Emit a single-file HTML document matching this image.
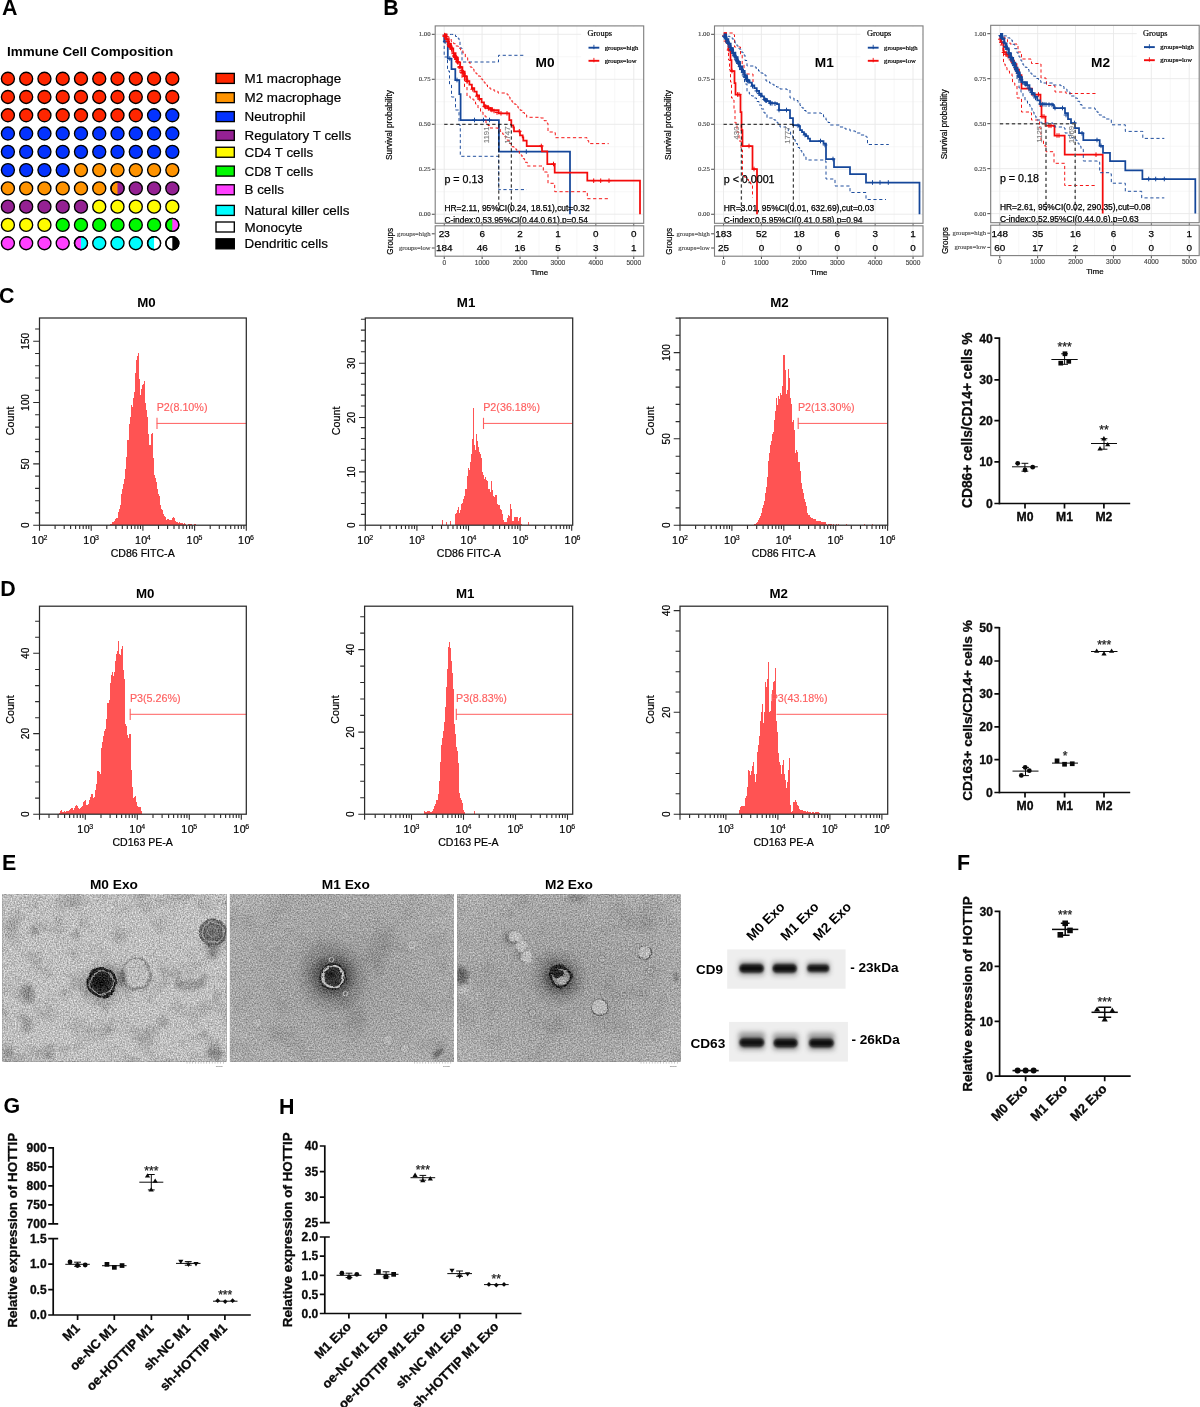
<!DOCTYPE html>
<html><head><meta charset="utf-8"><title>Figure</title>
<style>
html,body{margin:0;padding:0;background:#fff}
body{width:1200px;height:1407px;overflow:hidden;font-family:"Liberation Sans",sans-serif}
svg{display:block;will-change:transform}
.ss{font-family:"Liberation Sans",sans-serif}
.sf{font-family:"Liberation Serif",serif}
</style></head><body>
<svg width="1200" height="1407" viewBox="0 0 1200 1407">
<defs><filter id="ag0" filterUnits="userSpaceOnUse" x="2.3" y="894.0" width="224.4" height="167.7" color-interpolation-filters="sRGB"><feTurbulence type="fractalNoise" baseFrequency="0.71 0.67" numOctaves="2" seed="3"/><feColorMatrix type="matrix" values="1 0 0 0 0  1 0 0 0 0  1 0 0 0 0  0 0 0 0 1"/><feGaussianBlur stdDeviation="0.62" result="n"/><feComposite in="SourceGraphic" in2="n" operator="arithmetic" k1="0" k2="1" k3="0.56" k4="-0.28"/></filter>
<filter id="ag1" filterUnits="userSpaceOnUse" x="229.8" y="894.0" width="224.2" height="167.7" color-interpolation-filters="sRGB"><feTurbulence type="fractalNoise" baseFrequency="0.71 0.67" numOctaves="2" seed="7"/><feColorMatrix type="matrix" values="1 0 0 0 0  1 0 0 0 0  1 0 0 0 0  0 0 0 0 1"/><feGaussianBlur stdDeviation="0.62" result="n"/><feComposite in="SourceGraphic" in2="n" operator="arithmetic" k1="0" k2="1" k3="0.5" k4="-0.25"/></filter>
<filter id="ag2" filterUnits="userSpaceOnUse" x="457.2" y="894.0" width="223.5" height="167.7" color-interpolation-filters="sRGB"><feTurbulence type="fractalNoise" baseFrequency="0.71 0.67" numOctaves="2" seed="11"/><feColorMatrix type="matrix" values="1 0 0 0 0  1 0 0 0 0  1 0 0 0 0  0 0 0 0 1"/><feGaussianBlur stdDeviation="0.62" result="n"/><feComposite in="SourceGraphic" in2="n" operator="arithmetic" k1="0" k2="1" k3="0.5" k4="-0.25"/></filter>
<filter id="bl0" x="0" y="0" width="100%" height="100%" color-interpolation-filters="sRGB"><feTurbulence type="fractalNoise" baseFrequency="0.045" numOctaves="3" seed="5" result="n"/><feColorMatrix in="n" type="matrix" values="0 0 0 0 0  0 0 0 0 0  0 0 0 0 0  0.4 0 0 0 -0.19"/></filter>
<filter id="bl1" x="0" y="0" width="100%" height="100%" color-interpolation-filters="sRGB"><feTurbulence type="fractalNoise" baseFrequency="0.03" numOctaves="3" seed="9" result="n"/><feColorMatrix in="n" type="matrix" values="0 0 0 0 0  0 0 0 0 0  0 0 0 0 0  0.3 0 0 0 -0.15"/></filter>
<filter id="bl2" x="0" y="0" width="100%" height="100%" color-interpolation-filters="sRGB"><feTurbulence type="fractalNoise" baseFrequency="0.03" numOctaves="3" seed="13" result="n"/><feColorMatrix in="n" type="matrix" values="0 0 0 0 0  0 0 0 0 0  0 0 0 0 0  0.3 0 0 0 -0.15"/></filter>
<filter id="disp" x="-20%" y="-20%" width="140%" height="140%"><feTurbulence type="fractalNoise" baseFrequency="0.11" numOctaves="2" seed="4" result="t"/><feDisplacementMap in="SourceGraphic" in2="t" scale="4.5" xChannelSelector="R" yChannelSelector="G"/><feGaussianBlur stdDeviation="0.55"/></filter>
<filter id="disp2" x="-20%" y="-20%" width="140%" height="140%"><feTurbulence type="fractalNoise" baseFrequency="0.2" numOctaves="2" seed="8" result="t"/><feDisplacementMap in="SourceGraphic" in2="t" scale="3" xChannelSelector="R" yChannelSelector="G"/><feGaussianBlur stdDeviation="0.5"/></filter>
<filter id="b1" x="-30%" y="-30%" width="160%" height="160%"><feGaussianBlur stdDeviation="1"/></filter>
<filter id="b06" x="-30%" y="-30%" width="160%" height="160%"><feGaussianBlur stdDeviation="0.6"/></filter>
<filter id="b2" x="-30%" y="-30%" width="160%" height="160%"><feGaussianBlur stdDeviation="2"/></filter>
<filter id="b4" x="-50%" y="-50%" width="200%" height="200%"><feGaussianBlur stdDeviation="4"/></filter>
<filter id="bb" x="-20%" y="-60%" width="140%" height="220%"><feGaussianBlur stdDeviation="1.3 1.1"/></filter>
<filter id="bh" x="-20%" y="-80%" width="140%" height="260%"><feGaussianBlur stdDeviation="2.5 2.6"/></filter>
<radialGradient id="halo"><stop offset="0" stop-color="#000" stop-opacity="0.75"/><stop offset="0.35" stop-color="#000" stop-opacity="0.5"/><stop offset="0.65" stop-color="#000" stop-opacity="0.16"/><stop offset="1" stop-color="#000" stop-opacity="0"/></radialGradient>
<radialGradient id="vig"><stop offset="0" stop-color="#000" stop-opacity="0.10"/><stop offset="0.6" stop-color="#000" stop-opacity="0.03"/><stop offset="1" stop-color="#fff" stop-opacity="0.06"/></radialGradient></defs>
<rect width="1200" height="1407" fill="#fff"/>
<g id="panel_a">
<text class="ss" x="2" y="15.3" font-size="21.4" font-weight="bold">A</text>
<text class="ss" x="7" y="56.3" font-size="13.48" font-weight="bold">Immune Cell Composition</text>
<g stroke="#000" stroke-width="1.35">
<circle cx="7.9" cy="78.7" r="6.5" fill="#ff2600"/>
<circle cx="26.17" cy="78.7" r="6.5" fill="#ff2600"/>
<circle cx="44.44" cy="78.7" r="6.5" fill="#ff2600"/>
<circle cx="62.71" cy="78.7" r="6.5" fill="#ff2600"/>
<circle cx="80.98" cy="78.7" r="6.5" fill="#ff2600"/>
<circle cx="99.25" cy="78.7" r="6.5" fill="#ff2600"/>
<circle cx="117.52" cy="78.7" r="6.5" fill="#ff2600"/>
<circle cx="135.79" cy="78.7" r="6.5" fill="#ff2600"/>
<circle cx="154.06" cy="78.7" r="6.5" fill="#ff2600"/>
<circle cx="172.33" cy="78.7" r="6.5" fill="#ff2600"/>
<circle cx="7.9" cy="96.98" r="6.5" fill="#ff2600"/>
<circle cx="26.17" cy="96.98" r="6.5" fill="#ff2600"/>
<circle cx="44.44" cy="96.98" r="6.5" fill="#ff2600"/>
<circle cx="62.71" cy="96.98" r="6.5" fill="#ff2600"/>
<circle cx="80.98" cy="96.98" r="6.5" fill="#ff2600"/>
<circle cx="99.25" cy="96.98" r="6.5" fill="#ff2600"/>
<circle cx="117.52" cy="96.98" r="6.5" fill="#ff2600"/>
<circle cx="135.79" cy="96.98" r="6.5" fill="#ff2600"/>
<circle cx="154.06" cy="96.98" r="6.5" fill="#ff2600"/>
<circle cx="172.33" cy="96.98" r="6.5" fill="#ff2600"/>
<circle cx="7.9" cy="115.26" r="6.5" fill="#ff2600"/>
<circle cx="26.17" cy="115.26" r="6.5" fill="#ff2600"/>
<circle cx="44.44" cy="115.26" r="6.5" fill="#ff2600"/>
<circle cx="62.71" cy="115.26" r="6.5" fill="#ff2600"/>
<circle cx="80.98" cy="115.26" r="6.5" fill="#ff2600"/>
<circle cx="99.25" cy="115.26" r="6.5" fill="#ff2600"/>
<circle cx="117.52" cy="115.26" r="6.5" fill="#ff2600"/>
<circle cx="135.79" cy="115.26" r="6.5" fill="#ff2600"/>
<circle cx="154.06" cy="115.26" r="6.5" fill="#0433ff"/>
<circle cx="172.33" cy="115.26" r="6.5" fill="#0433ff"/>
<circle cx="7.9" cy="133.54" r="6.5" fill="#0433ff"/>
<circle cx="26.17" cy="133.54" r="6.5" fill="#0433ff"/>
<circle cx="44.44" cy="133.54" r="6.5" fill="#0433ff"/>
<circle cx="62.71" cy="133.54" r="6.5" fill="#0433ff"/>
<circle cx="80.98" cy="133.54" r="6.5" fill="#0433ff"/>
<circle cx="99.25" cy="133.54" r="6.5" fill="#0433ff"/>
<circle cx="117.52" cy="133.54" r="6.5" fill="#0433ff"/>
<circle cx="135.79" cy="133.54" r="6.5" fill="#0433ff"/>
<circle cx="154.06" cy="133.54" r="6.5" fill="#0433ff"/>
<circle cx="172.33" cy="133.54" r="6.5" fill="#0433ff"/>
<circle cx="7.9" cy="151.82" r="6.5" fill="#0433ff"/>
<circle cx="26.17" cy="151.82" r="6.5" fill="#0433ff"/>
<circle cx="44.44" cy="151.82" r="6.5" fill="#0433ff"/>
<circle cx="62.71" cy="151.82" r="6.5" fill="#0433ff"/>
<circle cx="80.98" cy="151.82" r="6.5" fill="#0433ff"/>
<circle cx="99.25" cy="151.82" r="6.5" fill="#0433ff"/>
<circle cx="117.52" cy="151.82" r="6.5" fill="#0433ff"/>
<circle cx="135.79" cy="151.82" r="6.5" fill="#0433ff"/>
<circle cx="154.06" cy="151.82" r="6.5" fill="#0433ff"/>
<circle cx="172.33" cy="151.82" r="6.5" fill="#0433ff"/>
<circle cx="7.9" cy="170.1" r="6.5" fill="#0433ff"/>
<circle cx="26.17" cy="170.1" r="6.5" fill="#0433ff"/>
<circle cx="44.44" cy="170.1" r="6.5" fill="#0433ff"/>
<circle cx="62.71" cy="170.1" r="6.5" fill="#0433ff"/>
<circle cx="80.98" cy="170.1" r="6.5" fill="#ff9300"/>
<circle cx="99.25" cy="170.1" r="6.5" fill="#ff9300"/>
<circle cx="117.52" cy="170.1" r="6.5" fill="#ff9300"/>
<circle cx="135.79" cy="170.1" r="6.5" fill="#ff9300"/>
<circle cx="154.06" cy="170.1" r="6.5" fill="#ff9300"/>
<circle cx="172.33" cy="170.1" r="6.5" fill="#ff9300"/>
<circle cx="7.9" cy="188.38" r="6.5" fill="#ff9300"/>
<circle cx="26.17" cy="188.38" r="6.5" fill="#ff9300"/>
<circle cx="44.44" cy="188.38" r="6.5" fill="#ff9300"/>
<circle cx="62.71" cy="188.38" r="6.5" fill="#ff9300"/>
<circle cx="80.98" cy="188.38" r="6.5" fill="#ff9300"/>
<circle cx="99.25" cy="188.38" r="6.5" fill="#ff9300"/>
<circle cx="117.52" cy="188.38" r="6.5" fill="#ff9300"/>
<path d="M117.52,181.88 A6.5,6.5 0 0 1 117.52,194.88 Z" fill="#942193" stroke="none"/>
<circle cx="117.52" cy="188.38" r="6.5" fill="none"/>
<circle cx="135.79" cy="188.38" r="6.5" fill="#942193"/>
<circle cx="154.06" cy="188.38" r="6.5" fill="#942193"/>
<circle cx="172.33" cy="188.38" r="6.5" fill="#942193"/>
<circle cx="7.9" cy="206.66" r="6.5" fill="#942193"/>
<circle cx="26.17" cy="206.66" r="6.5" fill="#942193"/>
<circle cx="44.44" cy="206.66" r="6.5" fill="#942193"/>
<circle cx="62.71" cy="206.66" r="6.5" fill="#942193"/>
<circle cx="80.98" cy="206.66" r="6.5" fill="#942193"/>
<circle cx="99.25" cy="206.66" r="6.5" fill="#fffb00"/>
<circle cx="117.52" cy="206.66" r="6.5" fill="#fffb00"/>
<circle cx="135.79" cy="206.66" r="6.5" fill="#fffb00"/>
<circle cx="154.06" cy="206.66" r="6.5" fill="#fffb00"/>
<circle cx="172.33" cy="206.66" r="6.5" fill="#fffb00"/>
<circle cx="7.9" cy="224.94" r="6.5" fill="#fffb00"/>
<circle cx="26.17" cy="224.94" r="6.5" fill="#fffb00"/>
<circle cx="44.44" cy="224.94" r="6.5" fill="#fffb00"/>
<circle cx="62.71" cy="224.94" r="6.5" fill="#00f900"/>
<circle cx="80.98" cy="224.94" r="6.5" fill="#00f900"/>
<circle cx="99.25" cy="224.94" r="6.5" fill="#00f900"/>
<circle cx="117.52" cy="224.94" r="6.5" fill="#00f900"/>
<circle cx="135.79" cy="224.94" r="6.5" fill="#00f900"/>
<circle cx="154.06" cy="224.94" r="6.5" fill="#00f900"/>
<circle cx="172.33" cy="224.94" r="6.5" fill="#00f900"/>
<path d="M172.33,218.44 A6.5,6.5 0 0 1 172.33,231.44 Z" fill="#ff40ff" stroke="none"/>
<circle cx="172.33" cy="224.94" r="6.5" fill="none"/>
<circle cx="7.9" cy="243.22" r="6.5" fill="#ff40ff"/>
<circle cx="26.17" cy="243.22" r="6.5" fill="#ff40ff"/>
<circle cx="44.44" cy="243.22" r="6.5" fill="#ff40ff"/>
<circle cx="62.71" cy="243.22" r="6.5" fill="#ff40ff"/>
<circle cx="80.98" cy="243.22" r="6.5" fill="#ff40ff"/>
<path d="M80.98,236.72 A6.5,6.5 0 0 1 80.98,249.72 Z" fill="#00fdff" stroke="none"/>
<circle cx="80.98" cy="243.22" r="6.5" fill="none"/>
<circle cx="99.25" cy="243.22" r="6.5" fill="#00fdff"/>
<circle cx="117.52" cy="243.22" r="6.5" fill="#00fdff"/>
<circle cx="135.79" cy="243.22" r="6.5" fill="#00fdff"/>
<circle cx="154.06" cy="243.22" r="6.5" fill="#00fdff"/>
<path d="M154.06,236.72 A6.5,6.5 0 0 1 154.06,249.72 Z" fill="#ffffff" stroke="none"/>
<circle cx="154.06" cy="243.22" r="6.5" fill="none"/>
<circle cx="172.33" cy="243.22" r="6.5" fill="#ffffff"/>
<path d="M172.33,236.72 A6.5,6.5 0 0 1 172.33,249.72 Z" fill="#000000" stroke="none"/>
<circle cx="172.33" cy="243.22" r="6.5" fill="none"/>
</g>
<rect x="216" y="73.4" width="18.3" height="10" fill="#ff2600" stroke="#000" stroke-width="1.35"/>
<text class="ss" x="244.5" y="82.9" font-size="13.4" stroke="#000" stroke-width="0.2">M1 macrophage</text>
<rect x="216" y="92.65" width="18.3" height="10" fill="#ff9300" stroke="#000" stroke-width="1.35"/>
<text class="ss" x="244.5" y="102.15" font-size="13.4" stroke="#000" stroke-width="0.2">M2 macrophage</text>
<rect x="216" y="111.6" width="18.3" height="10" fill="#0433ff" stroke="#000" stroke-width="1.35"/>
<text class="ss" x="244.5" y="121.1" font-size="13.4" stroke="#000" stroke-width="0.2">Neutrophil</text>
<rect x="216" y="130.4" width="18.3" height="10" fill="#942193" stroke="#000" stroke-width="1.35"/>
<text class="ss" x="244.5" y="139.9" font-size="13.4" stroke="#000" stroke-width="0.2">Regulatory T cells</text>
<rect x="216" y="147.25" width="18.3" height="10" fill="#fffb00" stroke="#000" stroke-width="1.35"/>
<text class="ss" x="244.5" y="156.75" font-size="13.4" stroke="#000" stroke-width="0.2">CD4 T cells</text>
<rect x="216" y="166.1" width="18.3" height="10" fill="#00f900" stroke="#000" stroke-width="1.35"/>
<text class="ss" x="244.5" y="175.6" font-size="13.4" stroke="#000" stroke-width="0.2">CD8 T cells</text>
<rect x="216" y="184.75" width="18.3" height="10" fill="#ff40ff" stroke="#000" stroke-width="1.35"/>
<text class="ss" x="244.5" y="194.25" font-size="13.4" stroke="#000" stroke-width="0.2">B cells</text>
<rect x="216" y="205.4" width="18.3" height="10" fill="#00fdff" stroke="#000" stroke-width="1.35"/>
<text class="ss" x="244.5" y="214.9" font-size="13.4" stroke="#000" stroke-width="0.2">Natural killer cells</text>
<rect x="216" y="222" width="18.3" height="10" fill="#ffffff" stroke="#000" stroke-width="1.35"/>
<text class="ss" x="244.5" y="231.5" font-size="13.4" stroke="#000" stroke-width="0.2">Monocyte</text>
<rect x="216" y="238.8" width="18.3" height="10" fill="#000000" stroke="#000" stroke-width="1.35"/>
<text class="ss" x="244.5" y="248.3" font-size="13.4" stroke="#000" stroke-width="0.2">Dendritic cells</text>
</g>
<g id="panel_b">
<text class="ss" x="383.2" y="15.4" font-size="21.4" font-weight="bold">B</text>
<path d="M463.2,25.9V223.3M501.1,25.9V223.3M539,25.9V223.3M576.9,25.9V223.3M614.8,25.9V223.3M435.2,56.8H643.7M435.2,101.8H643.7M435.2,146.8H643.7M435.2,191.8H643.7" fill="none" stroke="#f3f3f3" stroke-width="0.7"/>
<path d="M444.2,25.9V223.3M482.1,25.9V223.3M520,25.9V223.3M558,25.9V223.3M595.9,25.9V223.3M633.8,25.9V223.3M435.2,34.3H643.7M435.2,79.3H643.7M435.2,124.3H643.7M435.2,169.3H643.7M435.2,214.2H643.7" fill="none" stroke="#e9e9e9" stroke-width="0.9"/>
<rect x="581.2" y="26.5" width="61.8" height="37.5" fill="#fff" stroke="none" stroke-width="1"/>
<path d="M444.2,34.4L451.5,34.4H455.5V36.5H457.2V38.2H459V40H460V48H462V62L498.5,62L498.5,55.3L523.5,55.3" fill="none" stroke="#15479a" stroke-width="0.95" stroke-dasharray="3.2 2.6" stroke-linejoin="round"/>
<path d="M444.2,40L444.2,57L447.5,57L447.5,71L449.5,71L449.5,84L451.5,84L451.5,97L455.5,97L455.5,110L459,110L459,125L460.3,125L460.3,156.3L498.7,156.3L498.7,189.6L526.7,189.6" fill="none" stroke="#15479a" stroke-width="0.95" stroke-dasharray="3.2 2.6" stroke-linejoin="round"/>
<path d="M444.2,34.4L444.2,41.5L447.8,41.5L447.8,58.5L451.5,58.5L451.5,69L455.3,69L455.3,80L459.3,80L459.3,94L460.6,94L460.6,120L498.9,120L498.9,151.6L570,151.6L570,214.2" fill="none" stroke="#15479a" stroke-width="1.75" stroke-linejoin="miter"/>
<path d="M442.9,41.5h4.6M445.2,39.2v4.6M447.5,58.5h4.6M449.8,56.2v4.6M454.7,80h4.6M457,77.7v4.6M472.2,120h4.6M474.5,117.7v4.6M481.2,120h4.6M483.5,117.7v4.6M487.2,120h4.6M489.5,117.7v4.6M524,151.6h4.6M526.3,149.3v4.6" fill="none" stroke="#15479a" stroke-width="1"/>
<path d="M444.2,34.4H446.6V36.7H448.9V39H451.2V41.4H453.6V43.7H455.9V46H458.3V48.4H460.6V50.7H463V53H465.3V57.7H467.7V62.3H470V67H472V69.2H474V71.5H476V73.8H478V76H480.3V79H482.7V82H485V85H487.5V87H490V89H494V91H498V93H506V94H508V97H510V100H512V102H514V104H516V106H518V108H520.2V110.3H522.4V112.7H524.5V115H526.7V117.3H540.7V118H544V120.7H547.3V123.3H548V132H554.7V132.7H555.3V137.7L585.3,137.7H587V140.6H588.7V143.6L608.7,143.6" fill="none" stroke="#f40b0b" stroke-width="0.95" stroke-dasharray="3.2 2.6" stroke-linejoin="round"/>
<path d="M444.2,34.4H446.1V38.9H448.1V43.5H450V48H452V53H454V58H456V63H458V68H460V73H462V78H464.5V87H467V96H470V98H473V100H475.5V104H478V108H480.5V112H483V116H486V123H488V125.5H490V128H498V128.7H500.3V131.5H502.7V134.2H505V137H507.1V140.2H509.2V143.5H511.3V146.7H514V149H516.7V151.3H519.4V155H522V158.7H524.6V162.3H527.3V166L540.7,166H543.3V172H547.3V172.7H548V183.3H554V184H554.7V191.7L587.3,191.7L587.3,198.7L608.7,198.7" fill="none" stroke="#f40b0b" stroke-width="0.95" stroke-dasharray="3.2 2.6" stroke-linejoin="round"/>
<path d="M444.2,34.4H446.5V39.1H448.8V43.7H451V48.4H453.3V53H455.6V57.7H457.9V62.4H460.2V67H462.4V71.7H464.7V76.3H467V81H469.4V84.6H471.9V88.1H474.3V91.7H476.7V95.3H479.1V98.9H481.6V102.4H484V106H488V108H492V110H498.7V113.3L507.3,113.3H509.3V120H511.3V125.3H513.3V127.3H514V131.3L519.3,131.3H520V135.3H522.7V137.3H523.3V140.7H526.7V142L526.7,146L542,146L542,151.3L547.3,151.3L547.3,164L554.7,164L554.7,172.7L587.3,172.7L587.3,180.7L640,180.7L640,214.2" fill="none" stroke="#f40b0b" stroke-width="1.75" stroke-linejoin="miter"/>
<path d="M442.3,35.1h4.6M444.6,32.8v4.6M442.7,36.1h4.6M445,33.8v4.6M442.8,36.3h4.6M445.1,34v4.6M442.9,36.4h4.6M445.2,34.1v4.6M442.9,36.4h4.6M445.2,34.1v4.6M442.9,36.5h4.6M445.2,34.2v4.6M444.5,39.6h4.6M446.8,37.3v4.6M445.4,41.6h4.6M447.7,39.3v4.6M446.7,44.1h4.6M449,41.8v4.6M447.4,45.6h4.6M449.7,43.3v4.6M447.5,45.7h4.6M449.8,43.4v4.6M447.5,45.9h4.6M449.8,43.6v4.6M447.7,46.2h4.6M450,43.9v4.6M447.7,46.3h4.6M450,44v4.6M447.8,46.4h4.6M450.1,44.1v4.6M448.3,47.5h4.6M450.6,45.2v4.6M449.2,49.2h4.6M451.5,46.9v4.6M451.3,53.7h4.6M453.6,51.4v4.6M452.3,55.7h4.6M454.6,53.4v4.6M452.6,56.2h4.6M454.9,53.9v4.6M452.7,56.5h4.6M455,54.2v4.6M452.9,56.9h4.6M455.2,54.6v4.6M453,57.1h4.6M455.3,54.8v4.6M453.2,57.6h4.6M455.5,55.3v4.6M454.1,59.3h4.6M456.4,57v4.6M454.1,59.3h4.6M456.4,57v4.6M455.2,61.6h4.6M457.5,59.3v4.6M455.6,62.3h4.6M457.9,60v4.6M457.6,66.5h4.6M459.9,64.2v4.6M457.8,67h4.6M460.1,64.7v4.6M459.5,70.4h4.6M461.8,68.1v4.6M460.5,72.4h4.6M462.8,70.1v4.6M460.5,72.5h4.6M462.8,70.2v4.6M461.1,73.7h4.6M463.4,71.4v4.6M462.3,76h4.6M464.6,73.7v4.6M462.3,76.1h4.6M464.6,73.8v4.6M462.5,76.6h4.6M464.8,74.3v4.6M463.8,79.2h4.6M466.1,76.9v4.6M464.7,81.1h4.6M467,78.8v4.6M464.9,81.3h4.6M467.2,79v4.6M470.4,89.3h4.6M472.7,87v4.6M475,96.2h4.6M477.3,93.9v4.6M477,99.1h4.6M479.3,96.8v4.6M482.4,106.4h4.6M484.7,104.1v4.6M483.3,106.8h4.6M485.6,104.5v4.6M483.6,106.9h4.6M485.9,104.6v4.6M486,108.1h4.6M488.3,105.8v4.6M486.6,108.5h4.6M488.9,106.2v4.6M488.3,109.3h4.6M490.6,107v4.6M489.5,109.9h4.6M491.8,107.6v4.6M491.7,111h4.6M494,108.7v4.6M494.7,112.5h4.6M497,110.2v4.6M498.7,113.3h4.6M501,111v4.6M504.7,113.3h4.6M507,111v4.6M517,131.3h4.6M519.3,129v4.6M539,146h4.6M541.3,143.7v4.6M551.2,164h4.6M553.5,161.7v4.6M591.4,180.7h4.6M593.7,178.4v4.6M598.4,180.7h4.6M600.7,178.4v4.6M606.7,180.7h4.6M609,178.4v4.6" fill="none" stroke="#f40b0b" stroke-width="1"/>
<path d="M444.2,124.3H511.3M498.8,124.3V214.2M511.3,124.3V214.2" fill="none" stroke="#111" stroke-width="1" stroke-dasharray="3.4 2.6"/>
<text class="ss" x="489.2" y="126.47" font-size="7.8" text-anchor="end" fill="#808080" transform="rotate(-90 489.2 126.47)" stroke="#808080" stroke-width="0.15">1191</text>
<text class="ss" x="510.5" y="126.47" font-size="7.8" text-anchor="end" fill="#808080" transform="rotate(-90 510.5 126.47)" stroke="#808080" stroke-width="0.15">1747</text>
<text class="ss" x="545" y="67.3" font-size="13.7" font-weight="bold" text-anchor="middle">M0</text>
<text class="ss" x="444.45" y="182.6" font-size="10.7" stroke="#000" stroke-width="0.25">p = 0.13</text>
<clipPath id="cp435"><rect x="435.2" y="25.9" width="208.5" height="196.8"/></clipPath>
<text class="ss" x="444.45" y="210.7" font-size="8.42" stroke="#000" stroke-width="0.25">HR=2.11, 95%CI(0.24, 18.51),cut=0.32</text>
<text class="ss" x="444.45" y="222.5" font-size="8.37" clip-path="url(#cp435)" stroke="#000" stroke-width="0.25">C-index:0.53,95%CI(0.44,0.61),p=0.54</text>
<text class="sf" x="587.6" y="36.1" font-size="8.3" stroke="#000" stroke-width="0.2">Groups</text>
<path d="M588.5,47.7h10.8" fill="none" stroke="#15479a" stroke-width="1.9"/>
<path d="M593.9,44.8v4.4" fill="none" stroke="#15479a" stroke-width="0.9"/>
<text class="sf" x="604.8" y="49.8" font-size="6.62" stroke="#000" stroke-width="0.2">groups=high</text>
<path d="M588.5,60.8h10.8" fill="none" stroke="#f40b0b" stroke-width="1.9"/>
<path d="M593.9,57.9v4.4" fill="none" stroke="#f40b0b" stroke-width="0.9"/>
<text class="sf" x="604.8" y="62.9" font-size="6.62" stroke="#000" stroke-width="0.2">groups=low</text>
<rect x="435.2" y="25.9" width="208.5" height="197.4" fill="none" stroke="#7d7d7d" stroke-width="1.1"/>
<line x1="431.8" y1="34.3" x2="434.7" y2="34.3" stroke="#333" stroke-width="0.9"/>
<text class="sf" x="430.6" y="36.4" font-size="6.8" text-anchor="end" fill="#444" stroke="#444" stroke-width="0.15">1.00</text>
<line x1="431.8" y1="79.29" x2="434.7" y2="79.29" stroke="#333" stroke-width="0.9"/>
<text class="sf" x="430.6" y="81.39" font-size="6.8" text-anchor="end" fill="#444" stroke="#444" stroke-width="0.15">0.75</text>
<line x1="431.8" y1="124.27" x2="434.7" y2="124.27" stroke="#333" stroke-width="0.9"/>
<text class="sf" x="430.6" y="126.37" font-size="6.8" text-anchor="end" fill="#444" stroke="#444" stroke-width="0.15">0.50</text>
<line x1="431.8" y1="169.26" x2="434.7" y2="169.26" stroke="#333" stroke-width="0.9"/>
<text class="sf" x="430.6" y="171.36" font-size="6.8" text-anchor="end" fill="#444" stroke="#444" stroke-width="0.15">0.25</text>
<line x1="431.8" y1="214.25" x2="434.7" y2="214.25" stroke="#333" stroke-width="0.9"/>
<text class="sf" x="430.6" y="216.35" font-size="6.8" text-anchor="end" fill="#444" stroke="#444" stroke-width="0.15">0.00</text>
<text class="ss" x="392" y="125" font-size="8.34" text-anchor="middle" transform="rotate(-90 392 125)" stroke="#000" stroke-width="0.2">Survival probability</text>
<path d="M463.2,225.8V256.2M501.1,225.8V256.2M539,225.8V256.2M576.9,225.8V256.2M614.8,225.8V256.2" fill="none" stroke="#f3f3f3" stroke-width="0.7"/>
<path d="M444.2,225.8V256.2M482.1,225.8V256.2M520,225.8V256.2M558,225.8V256.2M595.9,225.8V256.2M633.8,225.8V256.2" fill="none" stroke="#e9e9e9" stroke-width="0.9"/>
<rect x="435.2" y="225.8" width="208.5" height="30.4" fill="none" stroke="#7d7d7d" stroke-width="1.1"/>
<text class="ss" x="444.25" y="237.1" font-size="9.9" text-anchor="middle" stroke="#000" stroke-width="0.25">23</text>
<text class="ss" x="444.25" y="251.2" font-size="9.9" text-anchor="middle" stroke="#000" stroke-width="0.25">184</text>
<line x1="444.25" y1="256.7" x2="444.25" y2="259" stroke="#333" stroke-width="0.9"/>
<line x1="444.25" y1="223.8" x2="444.25" y2="225.5" stroke="#555" stroke-width="0.9"/>
<text class="ss" x="444.25" y="264.9" font-size="6.6" text-anchor="middle" fill="#444" stroke="#444" stroke-width="0.15">0</text>
<text class="ss" x="482.15" y="237.1" font-size="9.9" text-anchor="middle" stroke="#000" stroke-width="0.25">6</text>
<text class="ss" x="482.15" y="251.2" font-size="9.9" text-anchor="middle" stroke="#000" stroke-width="0.25">46</text>
<line x1="482.15" y1="256.7" x2="482.15" y2="259" stroke="#333" stroke-width="0.9"/>
<line x1="482.15" y1="223.8" x2="482.15" y2="225.5" stroke="#555" stroke-width="0.9"/>
<text class="ss" x="482.15" y="264.9" font-size="6.6" text-anchor="middle" fill="#444" stroke="#444" stroke-width="0.15">1000</text>
<text class="ss" x="520.05" y="237.1" font-size="9.9" text-anchor="middle" stroke="#000" stroke-width="0.25">2</text>
<text class="ss" x="520.05" y="251.2" font-size="9.9" text-anchor="middle" stroke="#000" stroke-width="0.25">16</text>
<line x1="520.05" y1="256.7" x2="520.05" y2="259" stroke="#333" stroke-width="0.9"/>
<line x1="520.05" y1="223.8" x2="520.05" y2="225.5" stroke="#555" stroke-width="0.9"/>
<text class="ss" x="520.05" y="264.9" font-size="6.6" text-anchor="middle" fill="#444" stroke="#444" stroke-width="0.15">2000</text>
<text class="ss" x="557.95" y="237.1" font-size="9.9" text-anchor="middle" stroke="#000" stroke-width="0.25">1</text>
<text class="ss" x="557.95" y="251.2" font-size="9.9" text-anchor="middle" stroke="#000" stroke-width="0.25">5</text>
<line x1="557.95" y1="256.7" x2="557.95" y2="259" stroke="#333" stroke-width="0.9"/>
<line x1="557.95" y1="223.8" x2="557.95" y2="225.5" stroke="#555" stroke-width="0.9"/>
<text class="ss" x="557.95" y="264.9" font-size="6.6" text-anchor="middle" fill="#444" stroke="#444" stroke-width="0.15">3000</text>
<text class="ss" x="595.85" y="237.1" font-size="9.9" text-anchor="middle" stroke="#000" stroke-width="0.25">0</text>
<text class="ss" x="595.85" y="251.2" font-size="9.9" text-anchor="middle" stroke="#000" stroke-width="0.25">3</text>
<line x1="595.85" y1="256.7" x2="595.85" y2="259" stroke="#333" stroke-width="0.9"/>
<line x1="595.85" y1="223.8" x2="595.85" y2="225.5" stroke="#555" stroke-width="0.9"/>
<text class="ss" x="595.85" y="264.9" font-size="6.6" text-anchor="middle" fill="#444" stroke="#444" stroke-width="0.15">4000</text>
<text class="ss" x="633.75" y="237.1" font-size="9.9" text-anchor="middle" stroke="#000" stroke-width="0.25">0</text>
<text class="ss" x="633.75" y="251.2" font-size="9.9" text-anchor="middle" stroke="#000" stroke-width="0.25">1</text>
<line x1="633.75" y1="256.7" x2="633.75" y2="259" stroke="#333" stroke-width="0.9"/>
<line x1="633.75" y1="223.8" x2="633.75" y2="225.5" stroke="#555" stroke-width="0.9"/>
<text class="ss" x="633.75" y="264.9" font-size="6.6" text-anchor="middle" fill="#444" stroke="#444" stroke-width="0.15">5000</text>
<line x1="431.8" y1="233.8" x2="434.7" y2="233.8" stroke="#333" stroke-width="0.9"/>
<text class="sf" x="430.6" y="235.8" font-size="6.62" text-anchor="end" fill="#4a4a4a" stroke="#4a4a4a" stroke-width="0.15">groups=high</text>
<line x1="431.8" y1="248" x2="434.7" y2="248" stroke="#333" stroke-width="0.9"/>
<text class="sf" x="430.6" y="250" font-size="6.62" text-anchor="end" fill="#4a4a4a" stroke="#4a4a4a" stroke-width="0.15">groups=low</text>
<text class="ss" x="392.7" y="241.2" font-size="8.2" text-anchor="middle" transform="rotate(-90 392.7 241.2)" stroke="#000" stroke-width="0.2">Groups</text>
<text class="ss" x="539.5" y="275" font-size="8" text-anchor="middle" stroke="#000" stroke-width="0.2">Time</text>
<path d="M742.5,25.9V223.3M780.4,25.9V223.3M818.3,25.9V223.3M856.2,25.9V223.3M894.1,25.9V223.3M714.5,56.8H923M714.5,101.8H923M714.5,146.8H923M714.5,191.8H923" fill="none" stroke="#f3f3f3" stroke-width="0.7"/>
<path d="M723.5,25.9V223.3M761.4,25.9V223.3M799.3,25.9V223.3M837.2,25.9V223.3M875.1,25.9V223.3M913,25.9V223.3M714.5,34.3H923M714.5,79.3H923M714.5,124.3H923M714.5,169.3H923M714.5,214.2H923" fill="none" stroke="#e9e9e9" stroke-width="0.9"/>
<rect x="860.5" y="26.5" width="61.8" height="37.5" fill="#fff" stroke="none" stroke-width="1"/>
<path d="M723.7,33H734V35H734.5V47L740,47H740.5V55H742.2V64.5H744V74L753,74L753,82" fill="none" stroke="#f40b0b" stroke-width="0.95" stroke-dasharray="3.2 2.6" stroke-linejoin="round"/>
<path d="M723.7,34.5H725.9V42.2H728V50H728.5V60H729.5V70H730.5V82H731.5V98H733.5V100H734V110H735V123H737V132H739V141H741V150H742.5V175H744.5V177.2H746.5V179.4H748.5V181.6H750.5V183.8H752.5V186L752.5,197.5" fill="none" stroke="#f40b0b" stroke-width="0.95" stroke-dasharray="3.2 2.6" stroke-linejoin="round"/>
<path d="M723.7,33H726.1V41.5H728.5V50L730.5,50L730.5,60H731.5V71L734.5,71L734.5,83H735.5V94.5L740.5,94.5L740.5,112H741.5V130H742.5V146L752.5,146L752.5,169L756,169H757V214.2" fill="none" stroke="#f40b0b" stroke-width="1.75" stroke-linejoin="miter"/>
<path d="M722.2,35.8h4.6M724.5,33.5v4.6M723.7,41.1h4.6M726,38.8v4.6M726.7,50h4.6M729,47.7v4.6M729.7,71h4.6M732,68.7v4.6M736.7,94.5h4.6M739,92.2v4.6M735.2,94.5h4.6M737.5,92.2v4.6M746.7,146h4.6M749,143.7v4.6M751.7,169h4.6M754,166.7v4.6" fill="none" stroke="#f40b0b" stroke-width="1"/>
<path d="M723.7,34.4H726.8V36.3H729.9V38.1H733V40H735V43H737V46H739V49H741V52H743V55H745V60.5H747V66H754V67H756.2V69H758.5V71H760.8V73H763V75H766V81H769.5V83H773V85H776.5V87H780V89H787V90H790V98H794V100.5H798V103H800V105.5H802V108H804V110.5H806V113H821V113.5H823.5V116.8H826V120H828V122.5H830V125L835,125H840V127H845V129H850V131H855.3V133H860.7V135H866V137H867.5V144.5L888.8,144.5" fill="none" stroke="#15479a" stroke-width="0.95" stroke-dasharray="3.2 2.6" stroke-linejoin="round"/>
<path d="M723.7,36H726V40.4H728.2V44.8H730.5V49.2H732.7V53.6H735V58H737.3V64H739.7V70H742V76H744.5V84H747V92H749.3V94H751.7V96H754V98H756.5V101.5H759V105H761.5V109H764V113H767V118H774V120H776V122.3H778V124.7H780V127H786V128H788.3V131.9H790.6V135.8H792.9V139.7H795.2V143.6H797.5V147.5H799.6V150.6H801.8V153.8H803.9V156.9H806V160H825V161H826V179L835,179L835,186L850,186L850,192.5L866,192.5L866,199.5L886,199.5" fill="none" stroke="#15479a" stroke-width="0.95" stroke-dasharray="3.2 2.6" stroke-linejoin="round"/>
<path d="M723.7,34.4H726V39H728.4V43.5H730.7V48.1H733V52.6H735.4V57.2H737.7V61.8H740V66.3H742.3V70.9H744.7V75.4H747V80H749.4V82.7H751.9V85.4H754.3V88.1H756.7V90.9H759.1V93.6H761.6V96.3H764V99H767V101H770V103H777V104H779V110L787,110H790V118H793V125H799V126H800V130H802V132H804V134H806V136H808V138.5H810V141L821,141H823.5V143.5H826V146L826,159L834,159L834,167L850,167L850,174L866,174L866,182.5L919.5,182.5L919.5,214.2" fill="none" stroke="#15479a" stroke-width="1.75" stroke-linejoin="miter"/>
<path d="M722.3,36.1h4.6M724.6,33.8v4.6M722.4,36.3h4.6M724.7,34v4.6M722.6,36.7h4.6M724.9,34.4v4.6M723.1,37.6h4.6M725.4,35.3v4.6M723.7,39h4.6M726,36.7v4.6M725,41.4h4.6M727.3,39.1v4.6M725.5,42.4h4.6M727.8,40.1v4.6M726.1,43.5h4.6M728.4,41.2v4.6M727.4,46.1h4.6M729.7,43.8v4.6M728.1,47.6h4.6M730.4,45.3v4.6M729.1,49.5h4.6M731.4,47.2v4.6M729.3,49.9h4.6M731.6,47.6v4.6M729.5,50.3h4.6M731.8,48v4.6M730.8,52.8h4.6M733.1,50.5v4.6M731.1,53.5h4.6M733.4,51.2v4.6M732,55.2h4.6M734.3,52.9v4.6M732.4,55.9h4.6M734.7,53.6v4.6M732.9,56.8h4.6M735.2,54.5v4.6M733.9,59h4.6M736.2,56.7v4.6M734.3,59.7h4.6M736.6,57.4v4.6M734.8,60.5h4.6M737.1,58.2v4.6M735.2,61.3h4.6M737.5,59v4.6M735.6,62.3h4.6M737.9,60v4.6M736.2,63.4h4.6M738.5,61.1v4.6M736.3,63.5h4.6M738.6,61.2v4.6M737.8,66.4h4.6M740.1,64.1v4.6M737.9,66.7h4.6M740.2,64.4v4.6M739.1,68.9h4.6M741.4,66.6v4.6M739.3,69.5h4.6M741.6,67.2v4.6M739.4,69.6h4.6M741.7,67.3v4.6M740.8,72.4h4.6M743.1,70.1v4.6M741.8,74.2h4.6M744.1,71.9v4.6M743.1,76.9h4.6M745.4,74.6v4.6M743.1,77h4.6M745.4,74.7v4.6M743.5,77.6h4.6M745.8,75.3v4.6M744.4,79.5h4.6M746.7,77.2v4.6M744.5,79.6h4.6M746.8,77.3v4.6M744.6,79.9h4.6M746.9,77.6v4.6M745.6,81h4.6M747.9,78.7v4.6M745.7,81.1h4.6M748,78.8v4.6M750.2,86.2h4.6M752.5,83.9v4.6M754.5,90.9h4.6M756.8,88.6v4.6M756.9,93.6h4.6M759.2,91.3v4.6M758.4,95.3h4.6M760.7,93v4.6M762.4,99.5h4.6M764.7,97.2v4.6M763.3,100.1h4.6M765.6,97.8v4.6M763.5,100.2h4.6M765.8,97.9v4.6M764.1,100.6h4.6M766.4,98.3v4.6M767.9,103h4.6M770.2,100.7v4.6M768.3,103.1h4.6M770.6,100.8v4.6M769.7,103.3h4.6M772,101v4.6M772.7,103.7h4.6M775,101.4v4.6M776.7,110h4.6M779,107.7v4.6M784.2,110h4.6M786.5,107.7v4.6M795.7,125.8h4.6M798,123.5v4.6M802.7,135h4.6M805,132.7v4.6M818.2,141h4.6M820.5,138.7v4.6M822.7,145h4.6M825,142.7v4.6M830.7,159h4.6M833,156.7v4.6M870.2,182.5h4.6M872.5,180.2v4.6M877.7,182.5h4.6M880,180.2v4.6M886,182.5h4.6M888.3,180.2v4.6" fill="none" stroke="#15479a" stroke-width="1"/>
<path d="M723.5,124.3H793.3M741.3,124.3V214.2M793.3,124.3V214.2" fill="none" stroke="#111" stroke-width="1" stroke-dasharray="3.4 2.6"/>
<text class="ss" x="739" y="126.47" font-size="7.8" text-anchor="end" fill="#808080" transform="rotate(-90 739 126.47)" stroke="#808080" stroke-width="0.15">430</text>
<text class="ss" x="789.8" y="126.47" font-size="7.8" text-anchor="end" fill="#808080" transform="rotate(-90 789.8 126.47)" stroke="#808080" stroke-width="0.15">1777</text>
<text class="ss" x="824.3" y="67.3" font-size="13.7" font-weight="bold" text-anchor="middle">M1</text>
<text class="ss" x="723.75" y="182.6" font-size="10.7" stroke="#000" stroke-width="0.25">p &lt; 0.0001</text>
<clipPath id="cp714"><rect x="714.5" y="25.9" width="208.5" height="196.8"/></clipPath>
<text class="ss" x="723.75" y="210.7" font-size="8.42" stroke="#000" stroke-width="0.25">HR=3.01, 95%CI(0.01, 632.69),cut=0.03</text>
<text class="ss" x="723.75" y="222.5" font-size="8.37" clip-path="url(#cp714)" stroke="#000" stroke-width="0.25">C-index:0.5,95%CI(0.41,0.58),p=0.94</text>
<text class="sf" x="866.9" y="36.1" font-size="8.3" stroke="#000" stroke-width="0.2">Groups</text>
<path d="M867.8,47.7h10.8" fill="none" stroke="#15479a" stroke-width="1.9"/>
<path d="M873.2,44.8v4.4" fill="none" stroke="#15479a" stroke-width="0.9"/>
<text class="sf" x="884.1" y="49.8" font-size="6.62" stroke="#000" stroke-width="0.2">groups=high</text>
<path d="M867.8,60.8h10.8" fill="none" stroke="#f40b0b" stroke-width="1.9"/>
<path d="M873.2,57.9v4.4" fill="none" stroke="#f40b0b" stroke-width="0.9"/>
<text class="sf" x="884.1" y="62.9" font-size="6.62" stroke="#000" stroke-width="0.2">groups=low</text>
<rect x="714.5" y="25.9" width="208.5" height="197.4" fill="none" stroke="#7d7d7d" stroke-width="1.1"/>
<line x1="711.1" y1="34.3" x2="714" y2="34.3" stroke="#333" stroke-width="0.9"/>
<text class="sf" x="709.9" y="36.4" font-size="6.8" text-anchor="end" fill="#444" stroke="#444" stroke-width="0.15">1.00</text>
<line x1="711.1" y1="79.29" x2="714" y2="79.29" stroke="#333" stroke-width="0.9"/>
<text class="sf" x="709.9" y="81.39" font-size="6.8" text-anchor="end" fill="#444" stroke="#444" stroke-width="0.15">0.75</text>
<line x1="711.1" y1="124.27" x2="714" y2="124.27" stroke="#333" stroke-width="0.9"/>
<text class="sf" x="709.9" y="126.37" font-size="6.8" text-anchor="end" fill="#444" stroke="#444" stroke-width="0.15">0.50</text>
<line x1="711.1" y1="169.26" x2="714" y2="169.26" stroke="#333" stroke-width="0.9"/>
<text class="sf" x="709.9" y="171.36" font-size="6.8" text-anchor="end" fill="#444" stroke="#444" stroke-width="0.15">0.25</text>
<line x1="711.1" y1="214.25" x2="714" y2="214.25" stroke="#333" stroke-width="0.9"/>
<text class="sf" x="709.9" y="216.35" font-size="6.8" text-anchor="end" fill="#444" stroke="#444" stroke-width="0.15">0.00</text>
<text class="ss" x="671.3" y="125" font-size="8.34" text-anchor="middle" transform="rotate(-90 671.3 125)" stroke="#000" stroke-width="0.2">Survival probability</text>
<path d="M742.5,225.8V256.2M780.4,225.8V256.2M818.3,225.8V256.2M856.2,225.8V256.2M894.1,225.8V256.2" fill="none" stroke="#f3f3f3" stroke-width="0.7"/>
<path d="M723.5,225.8V256.2M761.4,225.8V256.2M799.3,225.8V256.2M837.2,225.8V256.2M875.1,225.8V256.2M913,225.8V256.2" fill="none" stroke="#e9e9e9" stroke-width="0.9"/>
<rect x="714.5" y="225.8" width="208.5" height="30.4" fill="none" stroke="#7d7d7d" stroke-width="1.1"/>
<text class="ss" x="723.55" y="237.1" font-size="9.9" text-anchor="middle" stroke="#000" stroke-width="0.25">183</text>
<text class="ss" x="723.55" y="251.2" font-size="9.9" text-anchor="middle" stroke="#000" stroke-width="0.25">25</text>
<line x1="723.55" y1="256.7" x2="723.55" y2="259" stroke="#333" stroke-width="0.9"/>
<line x1="723.55" y1="223.8" x2="723.55" y2="225.5" stroke="#555" stroke-width="0.9"/>
<text class="ss" x="723.55" y="264.9" font-size="6.6" text-anchor="middle" fill="#444" stroke="#444" stroke-width="0.15">0</text>
<text class="ss" x="761.45" y="237.1" font-size="9.9" text-anchor="middle" stroke="#000" stroke-width="0.25">52</text>
<text class="ss" x="761.45" y="251.2" font-size="9.9" text-anchor="middle" stroke="#000" stroke-width="0.25">0</text>
<line x1="761.45" y1="256.7" x2="761.45" y2="259" stroke="#333" stroke-width="0.9"/>
<line x1="761.45" y1="223.8" x2="761.45" y2="225.5" stroke="#555" stroke-width="0.9"/>
<text class="ss" x="761.45" y="264.9" font-size="6.6" text-anchor="middle" fill="#444" stroke="#444" stroke-width="0.15">1000</text>
<text class="ss" x="799.35" y="237.1" font-size="9.9" text-anchor="middle" stroke="#000" stroke-width="0.25">18</text>
<text class="ss" x="799.35" y="251.2" font-size="9.9" text-anchor="middle" stroke="#000" stroke-width="0.25">0</text>
<line x1="799.35" y1="256.7" x2="799.35" y2="259" stroke="#333" stroke-width="0.9"/>
<line x1="799.35" y1="223.8" x2="799.35" y2="225.5" stroke="#555" stroke-width="0.9"/>
<text class="ss" x="799.35" y="264.9" font-size="6.6" text-anchor="middle" fill="#444" stroke="#444" stroke-width="0.15">2000</text>
<text class="ss" x="837.25" y="237.1" font-size="9.9" text-anchor="middle" stroke="#000" stroke-width="0.25">6</text>
<text class="ss" x="837.25" y="251.2" font-size="9.9" text-anchor="middle" stroke="#000" stroke-width="0.25">0</text>
<line x1="837.25" y1="256.7" x2="837.25" y2="259" stroke="#333" stroke-width="0.9"/>
<line x1="837.25" y1="223.8" x2="837.25" y2="225.5" stroke="#555" stroke-width="0.9"/>
<text class="ss" x="837.25" y="264.9" font-size="6.6" text-anchor="middle" fill="#444" stroke="#444" stroke-width="0.15">3000</text>
<text class="ss" x="875.15" y="237.1" font-size="9.9" text-anchor="middle" stroke="#000" stroke-width="0.25">3</text>
<text class="ss" x="875.15" y="251.2" font-size="9.9" text-anchor="middle" stroke="#000" stroke-width="0.25">0</text>
<line x1="875.15" y1="256.7" x2="875.15" y2="259" stroke="#333" stroke-width="0.9"/>
<line x1="875.15" y1="223.8" x2="875.15" y2="225.5" stroke="#555" stroke-width="0.9"/>
<text class="ss" x="875.15" y="264.9" font-size="6.6" text-anchor="middle" fill="#444" stroke="#444" stroke-width="0.15">4000</text>
<text class="ss" x="913.05" y="237.1" font-size="9.9" text-anchor="middle" stroke="#000" stroke-width="0.25">1</text>
<text class="ss" x="913.05" y="251.2" font-size="9.9" text-anchor="middle" stroke="#000" stroke-width="0.25">0</text>
<line x1="913.05" y1="256.7" x2="913.05" y2="259" stroke="#333" stroke-width="0.9"/>
<line x1="913.05" y1="223.8" x2="913.05" y2="225.5" stroke="#555" stroke-width="0.9"/>
<text class="ss" x="913.05" y="264.9" font-size="6.6" text-anchor="middle" fill="#444" stroke="#444" stroke-width="0.15">5000</text>
<line x1="711.1" y1="233.8" x2="714" y2="233.8" stroke="#333" stroke-width="0.9"/>
<text class="sf" x="709.9" y="235.8" font-size="6.62" text-anchor="end" fill="#4a4a4a" stroke="#4a4a4a" stroke-width="0.15">groups=high</text>
<line x1="711.1" y1="248" x2="714" y2="248" stroke="#333" stroke-width="0.9"/>
<text class="sf" x="709.9" y="250" font-size="6.62" text-anchor="end" fill="#4a4a4a" stroke="#4a4a4a" stroke-width="0.15">groups=low</text>
<text class="ss" x="672" y="241.2" font-size="8.2" text-anchor="middle" transform="rotate(-90 672 241.2)" stroke="#000" stroke-width="0.2">Groups</text>
<text class="ss" x="818.8" y="275" font-size="8" text-anchor="middle" stroke="#000" stroke-width="0.2">Time</text>
<path d="M1018.7,25.3V222.7M1056.6,25.3V222.7M1094.5,25.3V222.7M1132.4,25.3V222.7M1170.3,25.3V222.7M990.7,56.2H1199.2M990.7,101.2H1199.2M990.7,146.2H1199.2M990.7,191.2H1199.2" fill="none" stroke="#f3f3f3" stroke-width="0.7"/>
<path d="M999.8,25.3V222.7M1037.7,25.3V222.7M1075.5,25.3V222.7M1113.5,25.3V222.7M1151.3,25.3V222.7M1189.2,25.3V222.7M990.7,33.7H1199.2M990.7,78.7H1199.2M990.7,123.7H1199.2M990.7,168.7H1199.2M990.7,213.6H1199.2" fill="none" stroke="#e9e9e9" stroke-width="0.9"/>
<rect x="1136.7" y="25.9" width="61.8" height="37.5" fill="#fff" stroke="none" stroke-width="1"/>
<path d="M1000,35H1002.5V37.2H1005V39.5H1007.5V41.8H1010V44H1017V45H1018V52H1021.5V53L1021.5,59H1031V59.5H1031.5V63.5H1039.5V64H1041V78H1046V80H1046.5V85.5H1054V86H1055V92H1066V93.5L1098,93.5" fill="none" stroke="#f40b0b" stroke-width="0.95" stroke-dasharray="3.2 2.6" stroke-linejoin="round"/>
<path d="M1000,45H1003V52H1003.5V64H1005.2V67.5H1007V71H1009.5V73.5H1012V76H1012.5V83H1014.8V85.5H1017V88L1017,98H1021.5V99L1021.5,112H1031V113H1031.5V120L1039,120H1039.5V128H1041V140H1043.5V145.8H1046V151.7H1054V154L1054,163.3H1064.7V164.5L1064.7,185.5L1097.3,185.5" fill="none" stroke="#f40b0b" stroke-width="0.95" stroke-dasharray="3.2 2.6" stroke-linejoin="round"/>
<path d="M1000,35H1000.5V42H1003V43H1003.5V52H1006.2V54.5H1009V57H1011.5V60.5H1014V64H1016.5V69.5H1019V75H1021.5V80L1021.5,88.5L1031.5,88.5H1032V94.5L1039.5,94.5H1040.5V106H1041.5V116.5L1045.5,116.5L1045.5,125.5H1054V126H1054.5V135.5L1064.7,135.5L1064.7,154.7L1102.7,154.7L1102.7,213.6" fill="none" stroke="#f40b0b" stroke-width="1.75" stroke-linejoin="miter"/>
<path d="M998,39.2h4.6M1000.3,36.9v4.6M999.2,42.4h4.6M1001.5,40.1v4.6M1001.7,52.5h4.6M1004,50.2v4.6M1003.7,54.3h4.6M1006,52v4.6M1005.7,56.1h4.6M1008,53.8v4.6M1008.7,59.8h4.6M1011,57.5v4.6M1010.7,62.6h4.6M1013,60.3v4.6M1013.7,68.4h4.6M1016,66.1v4.6M1015.7,72.8h4.6M1018,70.5v4.6M1017.7,77h4.6M1020,74.7v4.6M1026.7,88.5h4.6M1029,86.2v4.6M1036.2,94.5h4.6M1038.5,92.2v4.6M1039.7,116.5h4.6M1042,114.2v4.6M1041.7,116.5h4.6M1044,114.2v4.6M1046.7,125.7h4.6M1049,123.4v4.6M1048.7,125.8h4.6M1051,123.5v4.6M1054.7,135.5h4.6M1057,133.2v4.6M1056.7,135.5h4.6M1059,133.2v4.6M1093.7,154.7h4.6M1096,152.4v4.6" fill="none" stroke="#f40b0b" stroke-width="1"/>
<path d="M1000,33.8H1003.3V35.9H1006.7V37.9H1010V40H1012.3V44.3H1014.7V48.7H1017V53H1019V57H1021V61H1023V65H1025V67.2H1027V69.5H1029V71.8H1031V74H1033.5V76.2H1036V78.5H1038.5V80.8H1041V83H1053V85H1061V86.5H1064V89.2H1067V92H1070V96H1075V98H1077.3V101.3H1079.7V104.7H1082V108H1095V109.5H1097V112.2H1099V115H1102V117H1105V119L1111.3,119L1111.3,124.8L1125.3,124.8L1125.3,131.4L1141.7,131.4H1142.8V138.4L1164.3,138.4" fill="none" stroke="#15479a" stroke-width="0.95" stroke-dasharray="3.2 2.6" stroke-linejoin="round"/>
<path d="M1000,35H1002.2V39.5H1004.5V44H1006.8V48.5H1009V53H1011V58.7H1013V64.3H1015V70H1017V79H1019V88H1021V92.3H1023V96.7H1025V101H1027.5V104.5H1030V108H1032V112H1034V116H1036V120H1041V123H1053V124H1055V127H1064V128H1065V133H1068.3V135.3H1071.7V137.7H1075V140H1077V143.1H1079V146.2H1081V149.3H1083.3V161H1097.3V162.2H1099.7V172.7H1110.2V173.8H1111.3V183.2L1125.3,183.2L1125.3,191.3L1141.7,191.3L1141.7,197.9L1164.3,197.9" fill="none" stroke="#15479a" stroke-width="0.95" stroke-dasharray="3.2 2.6" stroke-linejoin="round"/>
<path d="M1000,33.8H1002.2V38.6H1004.4V43.4H1006.6V48.3H1008.8V53.1H1011V57.9H1013.2V62.7H1015.4V67.5H1017.6V72.4H1019.8V77.2H1022V82H1027V85H1029.5V89H1032V93H1034.7V96.7H1037.3V100.3H1040V104H1053V105H1054V108L1063,108H1065V113H1068V119H1071V123L1075,123L1075,128H1079V129L1079,133H1083.3V133.5L1083.3,140L1098.5,140H1099.7V145.8L1103,145.8L1103,152.8L1110,152.8L1110,161L1125.3,161L1125.3,170.3L1142.4,170.3L1142.4,179L1195.3,179L1195.3,213.6" fill="none" stroke="#15479a" stroke-width="1.75" stroke-linejoin="miter"/>
<path d="M998.5,35.5h4.6M1000.8,33.2v4.6M998.9,36.4h4.6M1001.2,34.1v4.6M999.6,38h4.6M1001.9,35.7v4.6M999.6,38.1h4.6M1001.9,35.8v4.6M1001.5,42.2h4.6M1003.8,39.9v4.6M1003.4,46.2h4.6M1005.7,43.9v4.6M1003.4,46.4h4.6M1005.7,44.1v4.6M1003.9,47.4h4.6M1006.2,45.1v4.6M1004.8,49.4h4.6M1007.1,47.1v4.6M1006.3,52.7h4.6M1008.6,50.4v4.6M1006.9,53.9h4.6M1009.2,51.6v4.6M1008,56.3h4.6M1010.3,54v4.6M1008.5,57.6h4.6M1010.8,55.3v4.6M1008.6,57.7h4.6M1010.9,55.4v4.6M1008.7,57.9h4.6M1011,55.6v4.6M1009.7,60.1h4.6M1012,57.8v4.6M1010.2,61.1h4.6M1012.5,58.8v4.6M1011.2,63.4h4.6M1013.5,61.1v4.6M1011.5,64h4.6M1013.8,61.7v4.6M1012,65.1h4.6M1014.3,62.8v4.6M1012.2,65.5h4.6M1014.5,63.2v4.6M1012.3,65.7h4.6M1014.6,63.4v4.6M1013,67.3h4.6M1015.3,65v4.6M1013.9,69.3h4.6M1016.2,67v4.6M1014,69.5h4.6M1016.3,67.2v4.6M1014.5,70.6h4.6M1016.8,68.3v4.6M1014.9,71.4h4.6M1017.2,69.1v4.6M1015.8,73.5h4.6M1018.1,71.2v4.6M1016.6,75.2h4.6M1018.9,72.9v4.6M1016.6,75.3h4.6M1018.9,73v4.6M1017.2,76.6h4.6M1019.5,74.3v4.6M1017.3,76.7h4.6M1019.6,74.4v4.6M1017.5,77.3h4.6M1019.8,75v4.6M1018.5,79.3h4.6M1020.8,77v4.6M1018.8,80h4.6M1021.1,77.7v4.6M1020.1,82.2h4.6M1022.4,79.9v4.6M1022.6,83.8h4.6M1024.9,81.5v4.6M1023.4,84.2h4.6M1025.7,81.9v4.6M1025,85.5h4.6M1027.3,83.2v4.6M1026.7,88.2h4.6M1029,85.9v4.6M1028.4,90.9h4.6M1030.7,88.6v4.6M1029.4,92.6h4.6M1031.7,90.3v4.6M1030.8,94.6h4.6M1033.1,92.3v4.6M1033.2,97.9h4.6M1035.5,95.6v4.6M1038.3,104h4.6M1040.6,101.7v4.6M1040,104.2h4.6M1042.3,101.9v4.6M1041.7,104.3h4.6M1044,102v4.6M1043.7,104.5h4.6M1046,102.2v4.6M1046.7,104.7h4.6M1049,102.4v4.6M1049.7,104.9h4.6M1052,102.6v4.6M1052.7,108h4.6M1055,105.7v4.6M1060.2,108h4.6M1062.5,105.7v4.6M1063.7,115h4.6M1066,112.7v4.6M1072.2,123h4.6M1074.5,120.7v4.6M1079.7,133.3h4.6M1082,131v4.6M1094.7,140h4.6M1097,137.7v4.6M1098.7,145.8h4.6M1101,143.5v4.6M1146.4,179h4.6M1148.7,176.7v4.6M1153.4,179h4.6M1155.7,176.7v4.6M1162,179h4.6M1164.3,176.7v4.6" fill="none" stroke="#15479a" stroke-width="1"/>
<path d="M999.8,123.7H1075.2M1046,123.7V213.6M1075.2,123.7V213.6" fill="none" stroke="#555" stroke-width="1.5" stroke-dasharray="3.4 2.6"/>
<text class="ss" x="1042.3" y="125.87" font-size="7.8" text-anchor="end" fill="#808080" transform="rotate(-90 1042.3 125.87)" stroke="#808080" stroke-width="0.15">1125</text>
<text class="ss" x="1073.8" y="125.87" font-size="7.8" text-anchor="end" fill="#808080" transform="rotate(-90 1073.8 125.87)" stroke="#808080" stroke-width="0.15">1969</text>
<text class="ss" x="1100.5" y="66.7" font-size="13.7" font-weight="bold" text-anchor="middle">M2</text>
<text class="ss" x="999.95" y="182" font-size="10.7" stroke="#000" stroke-width="0.25">p = 0.18</text>
<clipPath id="cp990"><rect x="990.7" y="25.3" width="208.5" height="196.8"/></clipPath>
<text class="ss" x="999.95" y="210.1" font-size="8.42" stroke="#000" stroke-width="0.25">HR=2.61, 95%CI(0.02, 290.35),cut=0.08</text>
<text class="ss" x="999.95" y="221.9" font-size="8.37" clip-path="url(#cp990)" stroke="#000" stroke-width="0.25">C-index:0.52,95%CI(0.44,0.6),p=0.63</text>
<text class="sf" x="1143.1" y="35.5" font-size="8.3" stroke="#000" stroke-width="0.2">Groups</text>
<path d="M1144,47.1h10.8" fill="none" stroke="#15479a" stroke-width="1.9"/>
<path d="M1149.4,44.2v4.4" fill="none" stroke="#15479a" stroke-width="0.9"/>
<text class="sf" x="1160.3" y="49.2" font-size="6.62" stroke="#000" stroke-width="0.2">groups=high</text>
<path d="M1144,60.2h10.8" fill="none" stroke="#f40b0b" stroke-width="1.9"/>
<path d="M1149.4,57.3v4.4" fill="none" stroke="#f40b0b" stroke-width="0.9"/>
<text class="sf" x="1160.3" y="62.3" font-size="6.62" stroke="#000" stroke-width="0.2">groups=low</text>
<rect x="990.7" y="25.3" width="208.5" height="197.4" fill="none" stroke="#7d7d7d" stroke-width="1.1"/>
<line x1="987.3" y1="33.7" x2="990.2" y2="33.7" stroke="#333" stroke-width="0.9"/>
<text class="sf" x="986.1" y="35.8" font-size="6.8" text-anchor="end" fill="#444" stroke="#444" stroke-width="0.15">1.00</text>
<line x1="987.3" y1="78.69" x2="990.2" y2="78.69" stroke="#333" stroke-width="0.9"/>
<text class="sf" x="986.1" y="80.79" font-size="6.8" text-anchor="end" fill="#444" stroke="#444" stroke-width="0.15">0.75</text>
<line x1="987.3" y1="123.67" x2="990.2" y2="123.67" stroke="#333" stroke-width="0.9"/>
<text class="sf" x="986.1" y="125.77" font-size="6.8" text-anchor="end" fill="#444" stroke="#444" stroke-width="0.15">0.50</text>
<line x1="987.3" y1="168.66" x2="990.2" y2="168.66" stroke="#333" stroke-width="0.9"/>
<text class="sf" x="986.1" y="170.76" font-size="6.8" text-anchor="end" fill="#444" stroke="#444" stroke-width="0.15">0.25</text>
<line x1="987.3" y1="213.65" x2="990.2" y2="213.65" stroke="#333" stroke-width="0.9"/>
<text class="sf" x="986.1" y="215.75" font-size="6.8" text-anchor="end" fill="#444" stroke="#444" stroke-width="0.15">0.00</text>
<text class="ss" x="947.5" y="124.4" font-size="8.34" text-anchor="middle" transform="rotate(-90 947.5 124.4)" stroke="#000" stroke-width="0.2">Survival probability</text>
<path d="M1018.7,225.2V255.6M1056.6,225.2V255.6M1094.5,225.2V255.6M1132.4,225.2V255.6M1170.3,225.2V255.6" fill="none" stroke="#f3f3f3" stroke-width="0.7"/>
<path d="M999.8,225.2V255.6M1037.7,225.2V255.6M1075.5,225.2V255.6M1113.5,225.2V255.6M1151.3,225.2V255.6M1189.2,225.2V255.6" fill="none" stroke="#e9e9e9" stroke-width="0.9"/>
<rect x="990.7" y="225.2" width="208.5" height="30.4" fill="none" stroke="#7d7d7d" stroke-width="1.1"/>
<text class="ss" x="999.75" y="236.5" font-size="9.9" text-anchor="middle" stroke="#000" stroke-width="0.25">148</text>
<text class="ss" x="999.75" y="250.6" font-size="9.9" text-anchor="middle" stroke="#000" stroke-width="0.25">60</text>
<line x1="999.75" y1="256.1" x2="999.75" y2="258.4" stroke="#333" stroke-width="0.9"/>
<line x1="999.75" y1="223.2" x2="999.75" y2="224.9" stroke="#555" stroke-width="0.9"/>
<text class="ss" x="999.75" y="264.3" font-size="6.6" text-anchor="middle" fill="#444" stroke="#444" stroke-width="0.15">0</text>
<text class="ss" x="1037.65" y="236.5" font-size="9.9" text-anchor="middle" stroke="#000" stroke-width="0.25">35</text>
<text class="ss" x="1037.65" y="250.6" font-size="9.9" text-anchor="middle" stroke="#000" stroke-width="0.25">17</text>
<line x1="1037.65" y1="256.1" x2="1037.65" y2="258.4" stroke="#333" stroke-width="0.9"/>
<line x1="1037.65" y1="223.2" x2="1037.65" y2="224.9" stroke="#555" stroke-width="0.9"/>
<text class="ss" x="1037.65" y="264.3" font-size="6.6" text-anchor="middle" fill="#444" stroke="#444" stroke-width="0.15">1000</text>
<text class="ss" x="1075.55" y="236.5" font-size="9.9" text-anchor="middle" stroke="#000" stroke-width="0.25">16</text>
<text class="ss" x="1075.55" y="250.6" font-size="9.9" text-anchor="middle" stroke="#000" stroke-width="0.25">2</text>
<line x1="1075.55" y1="256.1" x2="1075.55" y2="258.4" stroke="#333" stroke-width="0.9"/>
<line x1="1075.55" y1="223.2" x2="1075.55" y2="224.9" stroke="#555" stroke-width="0.9"/>
<text class="ss" x="1075.55" y="264.3" font-size="6.6" text-anchor="middle" fill="#444" stroke="#444" stroke-width="0.15">2000</text>
<text class="ss" x="1113.45" y="236.5" font-size="9.9" text-anchor="middle" stroke="#000" stroke-width="0.25">6</text>
<text class="ss" x="1113.45" y="250.6" font-size="9.9" text-anchor="middle" stroke="#000" stroke-width="0.25">0</text>
<line x1="1113.45" y1="256.1" x2="1113.45" y2="258.4" stroke="#333" stroke-width="0.9"/>
<line x1="1113.45" y1="223.2" x2="1113.45" y2="224.9" stroke="#555" stroke-width="0.9"/>
<text class="ss" x="1113.45" y="264.3" font-size="6.6" text-anchor="middle" fill="#444" stroke="#444" stroke-width="0.15">3000</text>
<text class="ss" x="1151.35" y="236.5" font-size="9.9" text-anchor="middle" stroke="#000" stroke-width="0.25">3</text>
<text class="ss" x="1151.35" y="250.6" font-size="9.9" text-anchor="middle" stroke="#000" stroke-width="0.25">0</text>
<line x1="1151.35" y1="256.1" x2="1151.35" y2="258.4" stroke="#333" stroke-width="0.9"/>
<line x1="1151.35" y1="223.2" x2="1151.35" y2="224.9" stroke="#555" stroke-width="0.9"/>
<text class="ss" x="1151.35" y="264.3" font-size="6.6" text-anchor="middle" fill="#444" stroke="#444" stroke-width="0.15">4000</text>
<text class="ss" x="1189.25" y="236.5" font-size="9.9" text-anchor="middle" stroke="#000" stroke-width="0.25">1</text>
<text class="ss" x="1189.25" y="250.6" font-size="9.9" text-anchor="middle" stroke="#000" stroke-width="0.25">0</text>
<line x1="1189.25" y1="256.1" x2="1189.25" y2="258.4" stroke="#333" stroke-width="0.9"/>
<line x1="1189.25" y1="223.2" x2="1189.25" y2="224.9" stroke="#555" stroke-width="0.9"/>
<text class="ss" x="1189.25" y="264.3" font-size="6.6" text-anchor="middle" fill="#444" stroke="#444" stroke-width="0.15">5000</text>
<line x1="987.3" y1="233.2" x2="990.2" y2="233.2" stroke="#333" stroke-width="0.9"/>
<text class="sf" x="986.1" y="235.2" font-size="6.62" text-anchor="end" fill="#4a4a4a" stroke="#4a4a4a" stroke-width="0.15">groups=high</text>
<line x1="987.3" y1="247.4" x2="990.2" y2="247.4" stroke="#333" stroke-width="0.9"/>
<text class="sf" x="986.1" y="249.4" font-size="6.62" text-anchor="end" fill="#4a4a4a" stroke="#4a4a4a" stroke-width="0.15">groups=low</text>
<text class="ss" x="948.2" y="240.6" font-size="8.2" text-anchor="middle" transform="rotate(-90 948.2 240.6)" stroke="#000" stroke-width="0.2">Groups</text>
<text class="ss" x="1095" y="274.4" font-size="8" text-anchor="middle" stroke="#000" stroke-width="0.2">Time</text>
</g>
<g id="panel_c">
<text class="ss" x="-1.1" y="302.7" font-size="21.4" font-weight="bold">C</text>
<path d="M109.3,525.2V524.9H110.1V524.3H110.8V523.7H111.6V523.2H112.3V522.3H113.1V522.4H113.8V521.2H114.6V520.7H115.3V518.5H116.1V517.9H116.8V517.7H117.6V514.7H118.3V511.8H119.1V508.8H119.8V504.8H120.6V500.1H121.3V494.1H122.1V488.7H122.8V483.5H123.6V483.1H124.3V478.9H125.1V468.9H125.8V456.9H126.6V448.8H127.3V440H128.1V439.9H128.8V423.9H129.6V414.7H130.3V417.2H131.1V405.2H131.8V407.4H132.6V392.7H133.3V398.2H134.1V391.8H134.8V372.5H135.6V362.6H136.3V372.2H137.1V366.1H137.8V361.7H138.6V373.3H139.3V378.6H140.1V394.6H140.8V388.8H141.6V377.8H142.3V385H143.1V384.3H143.8V381.3H144.6V393.4H145.3V403.3H146.1V409.6H146.8V417.4H147.6V421.6H148.3V433.6H149.1V444.7H149.8V444.6H150.6V452.7H151.3V433.7H152.1V438.6H152.8V457.7H153.6V469H154.3V474.5H155.1V478.3H155.8V481.7H156.6V484.7H157.3V489.3H158.1V493.7H158.8V495.7H159.6V501H160.3V505.3H161.1V508.7H161.8V509.8H162.6V511.8H163.3V514.2H164.1V516.3H164.8V517H165.6V518H166.3V519.6H167.1V519.1H167.8V519.1H168.6V520H169.3V520.1H170.1V520.2H170.8V520.2H171.6V518.6H172.3V517.9H173.1V516.7H173.8V517.7H174.6V519.5H175.3V521.3H176.1V521.7H176.8V522.2H177.6V522.2H178.3V522.5H179.1V522.3H179.8V523.1H180.6V523.1H181.3V523.1H182.1V523.3H182.8V523.6H183.6V524H184.3V523.8H185.1V523.5H185.8V524.6H186.6V524H187.3V524.5H188.1V524H188.8V523.9H189.6V524.1H190.3V524.4H191.1V523.9H191.8V524.5H192.6V524.6H193.3V524.5H194.1V524.1H194.8V524H195.6V524.9H196.3V524.8H197.1V524.7H197.8V524.6H198.6V524.3H199.3V524.7H200.1V525.2ZM184,525.2v-2.7h0.8v2.7ZM191.5,525.2v-2.4h0.8v2.4ZM194.7,525.2v-1.6h0.8v1.6ZM138.1,525.2v-172.5h0.8v172.5ZM137.1,525.2v-169.1h0.8v169.1ZM136,525.2v-164.8h0.8v164.8ZM143.5,525.2v-146.7h0.8v146.7ZM151.7,525.2v-92h0.8v92Z" fill="#ff5353" shape-rendering="crispEdges"/>
<line x1="156.7" y1="423.4" x2="246.3" y2="423.4" stroke="#ff5f5f" stroke-width="1"/>
<line x1="157" y1="417.8" x2="157" y2="429" stroke="#ff5f5f" stroke-width="1.1"/>
<text class="ss" x="156.7" y="411" font-size="10.75" fill="#ff5f5f" stroke="#ff5f5f" stroke-width="0.15">P2(8.10%)</text>
<rect x="39.5" y="318" width="206.8" height="207.2" fill="none" stroke="#2b2b2b" stroke-width="1.25"/>
<text class="ss" x="29.2" y="525.2" font-size="10.2" text-anchor="middle" transform="rotate(-90 29.2 525.2)" stroke="#000" stroke-width="0.2">0</text>
<text class="ss" x="29.2" y="463.9" font-size="10.2" text-anchor="middle" transform="rotate(-90 29.2 463.9)" stroke="#000" stroke-width="0.2">50</text>
<text class="ss" x="29.2" y="402.5" font-size="10.2" text-anchor="middle" transform="rotate(-90 29.2 402.5)" stroke="#000" stroke-width="0.2">100</text>
<text class="ss" x="29.2" y="341.2" font-size="10.2" text-anchor="middle" transform="rotate(-90 29.2 341.2)" stroke="#000" stroke-width="0.2">150</text>
<path d="M33.2,525.2H39.5M33.2,463.9H39.5M33.2,402.5H39.5M33.2,341.2H39.5M35.1,512.9H39.5M35.1,500.7H39.5M35.1,488.4H39.5M35.1,476.1H39.5M35.1,451.6H39.5M35.1,439.3H39.5M35.1,427.1H39.5M35.1,414.8H39.5M35.1,390.3H39.5M35.1,378H39.5M35.1,365.8H39.5M35.1,353.5H39.5M35.1,329H39.5M39.5,525.2V530.8M55.1,525.2V528.9M64.2,525.2V528.9M70.6,525.2V528.9M75.6,525.2V528.9M79.7,525.2V528.9M83.2,525.2V528.9M86.2,525.2V528.9M88.8,525.2V528.9M91.2,525.2V530.8M106.8,525.2V528.9M115.9,525.2V528.9M122.3,525.2V528.9M127.3,525.2V528.9M131.4,525.2V528.9M134.9,525.2V528.9M137.9,525.2V528.9M140.5,525.2V528.9M142.9,525.2V530.8M158.5,525.2V528.9M167.6,525.2V528.9M174,525.2V528.9M179,525.2V528.9M183.1,525.2V528.9M186.6,525.2V528.9M189.6,525.2V528.9M192.2,525.2V528.9M194.6,525.2V530.8M210.2,525.2V528.9M219.3,525.2V528.9M225.7,525.2V528.9M230.7,525.2V528.9M234.8,525.2V528.9M238.3,525.2V528.9M241.3,525.2V528.9M243.9,525.2V528.9M246.3,525.2V530.8" fill="none" stroke="#2b2b2b" stroke-width="1.1"/>
<text class="ss" x="31.5" y="543.8" font-size="10.7" letter-spacing="0.5" stroke="#000" stroke-width="0.2">10</text>
<text class="ss" x="43.4" y="539.8" font-size="7" stroke="#000" stroke-width="0.15">2</text>
<text class="ss" x="83.2" y="543.8" font-size="10.7" letter-spacing="0.5" stroke="#000" stroke-width="0.2">10</text>
<text class="ss" x="95.1" y="539.8" font-size="7" stroke="#000" stroke-width="0.15">3</text>
<text class="ss" x="134.9" y="543.8" font-size="10.7" letter-spacing="0.5" stroke="#000" stroke-width="0.2">10</text>
<text class="ss" x="146.8" y="539.8" font-size="7" stroke="#000" stroke-width="0.15">4</text>
<text class="ss" x="186.5" y="543.8" font-size="10.7" letter-spacing="0.5" stroke="#000" stroke-width="0.2">10</text>
<text class="ss" x="198.4" y="539.8" font-size="7" stroke="#000" stroke-width="0.15">5</text>
<text class="ss" x="238.1" y="543.8" font-size="10.7" letter-spacing="0.5" stroke="#000" stroke-width="0.2">10</text>
<text class="ss" x="250" y="539.8" font-size="7" stroke="#000" stroke-width="0.15">6</text>
<text class="ss" x="142.7" y="556.9" font-size="10.57" text-anchor="middle" stroke="#000" stroke-width="0.2">CD86 FITC-A</text>
<text class="ss" x="13.8" y="420.9" font-size="10.7" text-anchor="middle" transform="rotate(-90 13.8 420.9)" stroke="#000" stroke-width="0.2">Count</text>
<text class="ss" x="146.4" y="307.3" font-size="13.3" font-weight="bold" text-anchor="middle">M0</text>
<path d="M454.7,525.2V520H455.4V513.6H456.2V512.8H456.9V510.1H457.7V507.5H458.4V507H459.2V512.6H459.9V510.2H460.7V506.6H461.4V504.4H462.2V502.6H462.9V499.2H463.7V498.7H464.4V495.5H465.2V489H465.9V488.5H466.7V484.3H467.4V475.6H468.2V467.6H468.9V469.5H469.7V467.7H470.4V462.3H471.2V453.8H471.9V438.6H472.7V434.3H473.4V450.4H474.2V445.1H474.9V450.2H475.7V444.8H476.4V434.3H477.2V440.7H477.9V447.3H478.7V452.6H479.4V451.7H480.2V454.4H480.9V457.6H481.7V474.8H482.4V471.5H483.2V474.9H483.9V478.7H484.7V477.3H485.4V476.7H486.2V479.6H486.9V480.7H487.7V479.3H488.4V489.1H489.2V489.4H489.9V492.1H490.7V491.4H491.4V481H492.2V489.6H492.9V495.5H493.7V493.7H494.4V496.7H495.2V494.8H495.9V494.9H496.7V498.7H497.4V504.4H498.2V504.9H498.9V505.1H499.7V506.1H500.4V508.7H501.2V510H501.9V513.9H502.7V517.4H503.4V519.5H504.2V521.9H504.9V521.6H505.7V522.4H506.4V521.5H507.2V517.5H507.9V515.2H508.7V513.1H509.4V515.9H510.2V507.8H510.9V508.7H511.7V519.2H512.4V520.6H513.2V521H513.9V516.7H514.7V515.7H515.4V517H516.2V516.6H516.9V516.8H517.7V520.1H518.4V521.2H519.2V517.5H519.9V516.5H520.7V520.5H521.4V524H522.2V525.2ZM441.9,525.2v-4.8h0.8v4.8ZM446.4,525.2v-3.7h0.8v3.7ZM450.4,525.2v-4h0.8v4ZM473.1,525.2v-117.3h0.8v117.3ZM527.7,525.2v-3.7h0.8v3.7ZM510.4,525.2v-20.8h0.8v20.8Z" fill="#ff5353" shape-rendering="crispEdges"/>
<line x1="483.2" y1="423.4" x2="572.7" y2="423.4" stroke="#ff5f5f" stroke-width="1"/>
<line x1="483.5" y1="417.8" x2="483.5" y2="429" stroke="#ff5f5f" stroke-width="1.1"/>
<text class="ss" x="483.2" y="411" font-size="10.75" fill="#ff5f5f" stroke="#ff5f5f" stroke-width="0.15">P2(36.18%)</text>
<rect x="365.3" y="318" width="207.4" height="207.2" fill="none" stroke="#2b2b2b" stroke-width="1.25"/>
<text class="ss" x="355" y="525.2" font-size="10.2" text-anchor="middle" transform="rotate(-90 355 525.2)" stroke="#000" stroke-width="0.2">0</text>
<text class="ss" x="355" y="471.9" font-size="10.2" text-anchor="middle" transform="rotate(-90 355 471.9)" stroke="#000" stroke-width="0.2">10</text>
<text class="ss" x="355" y="417.5" font-size="10.2" text-anchor="middle" transform="rotate(-90 355 417.5)" stroke="#000" stroke-width="0.2">20</text>
<text class="ss" x="355" y="363.3" font-size="10.2" text-anchor="middle" transform="rotate(-90 355 363.3)" stroke="#000" stroke-width="0.2">30</text>
<path d="M359,525.2H365.3M359,471.9H365.3M359,417.5H365.3M359,363.3H365.3M360.9,514.4H365.3M360.9,503.5H365.3M360.9,492.7H365.3M360.9,481.8H365.3M360.9,460.2H365.3M360.9,449.3H365.3M360.9,438.5H365.3M360.9,427.6H365.3M360.9,406H365.3M360.9,395.1H365.3M360.9,384.3H365.3M360.9,373.4H365.3M360.9,351.8H365.3M360.9,340.9H365.3M360.9,330.1H365.3M360.9,319.2H365.3M365.3,525.2V530.8M380.8,525.2V528.9M389.9,525.2V528.9M396.4,525.2V528.9M401.4,525.2V528.9M405.5,525.2V528.9M408.9,525.2V528.9M411.9,525.2V528.9M414.5,525.2V528.9M416.9,525.2V530.8M432.4,525.2V528.9M441.5,525.2V528.9M448,525.2V528.9M453,525.2V528.9M457.1,525.2V528.9M460.5,525.2V528.9M463.5,525.2V528.9M466.1,525.2V528.9M468.5,525.2V530.8M484,525.2V528.9M493.1,525.2V528.9M499.6,525.2V528.9M504.6,525.2V528.9M508.7,525.2V528.9M512.1,525.2V528.9M515.1,525.2V528.9M517.7,525.2V528.9M520.1,525.2V530.8M535.6,525.2V528.9M544.7,525.2V528.9M551.2,525.2V528.9M556.2,525.2V528.9M560.3,525.2V528.9M563.7,525.2V528.9M566.7,525.2V528.9M569.3,525.2V528.9M571.7,525.2V530.8" fill="none" stroke="#2b2b2b" stroke-width="1.1"/>
<text class="ss" x="357.3" y="543.8" font-size="10.7" letter-spacing="0.5" stroke="#000" stroke-width="0.2">10</text>
<text class="ss" x="369.2" y="539.8" font-size="7" stroke="#000" stroke-width="0.15">2</text>
<text class="ss" x="408.9" y="543.8" font-size="10.7" letter-spacing="0.5" stroke="#000" stroke-width="0.2">10</text>
<text class="ss" x="420.8" y="539.8" font-size="7" stroke="#000" stroke-width="0.15">3</text>
<text class="ss" x="460.6" y="543.8" font-size="10.7" letter-spacing="0.5" stroke="#000" stroke-width="0.2">10</text>
<text class="ss" x="472.5" y="539.8" font-size="7" stroke="#000" stroke-width="0.15">4</text>
<text class="ss" x="512.5" y="543.8" font-size="10.7" letter-spacing="0.5" stroke="#000" stroke-width="0.2">10</text>
<text class="ss" x="524.4" y="539.8" font-size="7" stroke="#000" stroke-width="0.15">5</text>
<text class="ss" x="564.5" y="543.8" font-size="10.7" letter-spacing="0.5" stroke="#000" stroke-width="0.2">10</text>
<text class="ss" x="576.4" y="539.8" font-size="7" stroke="#000" stroke-width="0.15">6</text>
<text class="ss" x="468.8" y="556.9" font-size="10.57" text-anchor="middle" stroke="#000" stroke-width="0.2">CD86 FITC-A</text>
<text class="ss" x="339.6" y="420.9" font-size="10.7" text-anchor="middle" transform="rotate(-90 339.6 420.9)" stroke="#000" stroke-width="0.2">Count</text>
<text class="ss" x="466.1" y="307.3" font-size="13.3" font-weight="bold" text-anchor="middle">M1</text>
<path d="M753.3,525.2V524.8H754.1V524.1H754.8V524.2H755.6V523.7H756.3V522.6H757.1V521.5H757.8V520.3H758.6V518.5H759.3V517.8H760.1V515.6H760.8V512.8H761.6V510.5H762.3V507.8H763.1V505.1H763.8V501.1H764.6V497.6H765.3V492.9H766.1V486.7H766.8V477.4H767.6V470.1H768.3V460.5H769.1V452.5H769.8V445.1H770.6V442.4H771.3V440.6H772.1V433.8H772.8V431.8H773.6V425.4H774.3V419.7H775.1V411.1H775.8V398.2H776.6V397.9H777.3V404.9H778.1V395.5H778.8V399.1H779.6V401.9H780.3V392.6H781.1V395.4H781.8V386.3H782.6V373.9H783.3V354.9H784.1V363.3H784.8V369.5H785.6V385.6H786.3V393.8H787.1V389.8H787.8V380.2H788.6V378.9H789.3V377.9H790.1V397.6H790.8V404.2H791.6V408.8H792.3V421.8H793.1V426.8H793.8V429.8H794.6V449.2H795.3V453.1H796.1V450.2H796.8V451.6H797.6V452.4H798.3V461.5H799.1V461.8H799.8V471.2H800.6V475H801.3V482.7H802.1V489.3H802.8V493H803.6V496.6H804.3V499.2H805.1V502.1H805.8V505.9H806.6V510.3H807.3V512.8H808.1V514.9H808.8V515.4H809.6V516.1H810.3V517.1H811.1V518.3H811.8V518.4H812.6V517.8H813.3V519.1H814.1V519.1H814.8V519.3H815.6V520.3H816.3V520.7H817.1V520.7H817.8V521H818.6V520.9H819.3V521.3H820.1V521.2H820.8V521.6H821.6V521.9H822.3V521.5H823.1V522H823.8V521.8H824.6V521.4H825.3V521.9H826.1V524.2H826.8V524.7H827.6V524.6H828.3V523.8H829.1V523.9H829.8V524.1H830.6V524H831.3V524H832.1V524.5H832.8V524.3H833.6V524.1H834.3V524.8H835.1V524.6H835.8V524H836.6V524.1H837.3V524.5H838.1V524.1H838.8V524.7H839.6V524.1H840.3V524.8H841.1V524.5H841.8V524.5H842.6V524.3H843.3V525H844.1V524.8H844.8V524.6H845.6V524.3H846.3V524.4H847.1V524.7H847.8V525.2H848.6V525.2ZM864,525.2v-0.8h0.8v0.8ZM872,525.2v-0.8h0.8v0.8ZM783.5,525.2v-172.5h0.8v172.5ZM784.3,525.2v-170.7h0.8v170.7ZM788.3,525.2v-156h0.8v156ZM793.3,525.2v-105.3h0.8v105.3Z" fill="#ff5353" shape-rendering="crispEdges"/>
<line x1="797.9" y1="423.4" x2="887.7" y2="423.4" stroke="#ff5f5f" stroke-width="1"/>
<line x1="798.2" y1="417.8" x2="798.2" y2="429" stroke="#ff5f5f" stroke-width="1.1"/>
<text class="ss" x="797.9" y="411" font-size="10.75" fill="#ff5f5f" stroke="#ff5f5f" stroke-width="0.15">P2(13.30%)</text>
<rect x="680" y="318" width="207.7" height="207.2" fill="none" stroke="#2b2b2b" stroke-width="1.25"/>
<text class="ss" x="669.7" y="525.2" font-size="10.2" text-anchor="middle" transform="rotate(-90 669.7 525.2)" stroke="#000" stroke-width="0.2">0</text>
<text class="ss" x="669.7" y="438.8" font-size="10.2" text-anchor="middle" transform="rotate(-90 669.7 438.8)" stroke="#000" stroke-width="0.2">50</text>
<text class="ss" x="669.7" y="352.6" font-size="10.2" text-anchor="middle" transform="rotate(-90 669.7 352.6)" stroke="#000" stroke-width="0.2">100</text>
<path d="M673.7,525.2H680M673.7,438.8H680M673.7,352.6H680M675.6,507.9H680M675.6,490.7H680M675.6,473.4H680M675.6,456.2H680M675.6,421.6H680M675.6,404.4H680M675.6,387.1H680M675.6,369.9H680M675.6,335.3H680M675.6,318.1H680M680,525.2V530.8M695.6,525.2V528.9M704.8,525.2V528.9M711.2,525.2V528.9M716.3,525.2V528.9M720.4,525.2V528.9M723.9,525.2V528.9M726.9,525.2V528.9M729.5,525.2V528.9M731.9,525.2V530.8M747.5,525.2V528.9M756.7,525.2V528.9M763.1,525.2V528.9M768.2,525.2V528.9M772.3,525.2V528.9M775.8,525.2V528.9M778.8,525.2V528.9M781.4,525.2V528.9M783.8,525.2V530.8M799.4,525.2V528.9M808.6,525.2V528.9M815,525.2V528.9M820.1,525.2V528.9M824.2,525.2V528.9M827.7,525.2V528.9M830.7,525.2V528.9M833.3,525.2V528.9M835.7,525.2V530.8M851.3,525.2V528.9M860.5,525.2V528.9M866.9,525.2V528.9M872,525.2V528.9M876.1,525.2V528.9M879.6,525.2V528.9M882.6,525.2V528.9M885.2,525.2V528.9M887.6,525.2V530.8" fill="none" stroke="#2b2b2b" stroke-width="1.1"/>
<text class="ss" x="672" y="543.8" font-size="10.7" letter-spacing="0.5" stroke="#000" stroke-width="0.2">10</text>
<text class="ss" x="683.9" y="539.8" font-size="7" stroke="#000" stroke-width="0.15">2</text>
<text class="ss" x="723.9" y="543.8" font-size="10.7" letter-spacing="0.5" stroke="#000" stroke-width="0.2">10</text>
<text class="ss" x="735.8" y="539.8" font-size="7" stroke="#000" stroke-width="0.15">3</text>
<text class="ss" x="775.7" y="543.8" font-size="10.7" letter-spacing="0.5" stroke="#000" stroke-width="0.2">10</text>
<text class="ss" x="787.6" y="539.8" font-size="7" stroke="#000" stroke-width="0.15">4</text>
<text class="ss" x="827.6" y="543.8" font-size="10.7" letter-spacing="0.5" stroke="#000" stroke-width="0.2">10</text>
<text class="ss" x="839.5" y="539.8" font-size="7" stroke="#000" stroke-width="0.15">5</text>
<text class="ss" x="879.5" y="543.8" font-size="10.7" letter-spacing="0.5" stroke="#000" stroke-width="0.2">10</text>
<text class="ss" x="891.4" y="539.8" font-size="7" stroke="#000" stroke-width="0.15">6</text>
<text class="ss" x="783.65" y="556.9" font-size="10.57" text-anchor="middle" stroke="#000" stroke-width="0.2">CD86 FITC-A</text>
<text class="ss" x="654.3" y="420.9" font-size="10.7" text-anchor="middle" transform="rotate(-90 654.3 420.9)" stroke="#000" stroke-width="0.2">Count</text>
<text class="ss" x="779.5" y="307.3" font-size="13.3" font-weight="bold" text-anchor="middle">M2</text>
<text class="ss" x="992.8" y="342.57" font-size="12.2" font-weight="bold" text-anchor="end" fill="#0a0a0a" stroke="#0a0a0a" stroke-width="0.3">40</text>
<text class="ss" x="992.8" y="384.12" font-size="12.2" font-weight="bold" text-anchor="end" fill="#0a0a0a" stroke="#0a0a0a" stroke-width="0.3">30</text>
<text class="ss" x="992.8" y="425.07" font-size="12.2" font-weight="bold" text-anchor="end" fill="#0a0a0a" stroke="#0a0a0a" stroke-width="0.3">20</text>
<text class="ss" x="992.8" y="466.32" font-size="12.2" font-weight="bold" text-anchor="end" fill="#0a0a0a" stroke="#0a0a0a" stroke-width="0.3">10</text>
<text class="ss" x="992.8" y="507.87" font-size="12.2" font-weight="bold" text-anchor="end" fill="#0a0a0a" stroke="#0a0a0a" stroke-width="0.3">0</text>
<path d="M999.4,337.3V504.4M998.5,503.5H1130.2M994.4,338.2H999.4M994.4,379.8H999.4M994.4,420.7H999.4M994.4,461.9H999.4M994.4,503.5H999.4M1025,503.5V508.5M1064.5,503.5V508.5M1103.9,503.5V508.5" fill="none" stroke="#0a0a0a" stroke-width="1.7"/>
<text class="ss" x="1025" y="520.7" font-size="12.2" font-weight="bold" text-anchor="middle" fill="#0a0a0a" stroke="#0a0a0a" stroke-width="0.3">M0</text>
<text class="ss" x="1064.5" y="520.7" font-size="12.2" font-weight="bold" text-anchor="middle" fill="#0a0a0a" stroke="#0a0a0a" stroke-width="0.3">M1</text>
<text class="ss" x="1103.9" y="520.7" font-size="12.2" font-weight="bold" text-anchor="middle" fill="#0a0a0a" stroke="#0a0a0a" stroke-width="0.3">M2</text>
<text class="ss" x="972" y="420.2" font-size="13.8" font-weight="bold" text-anchor="middle" fill="#0a0a0a" transform="rotate(-90 972 420.2)" stroke="#0a0a0a" stroke-width="0.3">CD86+ cells/CD14+ cells %</text>
<g fill="#0a0a0a">
<line x1="1012" y1="466.8" x2="1037.8" y2="466.8" stroke="#0a0a0a" stroke-width="1"/>
<path d="M1024.9,463.3V471.2M1021.5,463.3H1028.3M1021.5,471.2H1028.3" fill="none" stroke="#0a0a0a" stroke-width="1"/>
<circle cx="1017.7" cy="463.3" r="2.4"/>
<circle cx="1025" cy="470" r="2.4"/>
<circle cx="1032.7" cy="467.2" r="2.4"/>
</g>
<g fill="#0a0a0a">
<line x1="1051.4" y1="359.5" x2="1077.7" y2="359.5" stroke="#0a0a0a" stroke-width="1"/>
<path d="M1064.6,353.8V364.3M1061.2,353.8H1068M1061.2,364.3H1068" fill="none" stroke="#0a0a0a" stroke-width="1"/>
<rect x="1062.6" y="351.4" width="4.7" height="4.7"/>
<rect x="1058.4" y="360.8" width="4.7" height="4.7"/>
<rect x="1066.4" y="359" width="4.7" height="4.7"/>
</g>
<text class="ss" x="1064.55" y="350.5" font-size="12.2" text-anchor="middle" fill="#222" stroke="#222" stroke-width="0.25">***</text>
<g fill="#0a0a0a">
<line x1="1091" y1="443.5" x2="1117" y2="443.5" stroke="#0a0a0a" stroke-width="1"/>
<path d="M1104,438.7V449.2M1100.6,438.7H1107.4M1100.6,449.2H1107.4" fill="none" stroke="#0a0a0a" stroke-width="1"/>
<path d="M1103.9,436.1L1106.5,440.4L1101.3,440.4Z"/>
<path d="M1100,446.1L1102.6,450.4L1097.4,450.4Z"/>
<path d="M1107.7,441.9L1110.3,446.2L1105.1,446.2Z"/>
</g>
<text class="ss" x="1104" y="433.7" font-size="12.2" text-anchor="middle" fill="#222" stroke="#222" stroke-width="0.25">**</text>
</g>
<g id="panel_d">
<text class="ss" x="0.35" y="596.1" font-size="21.4" font-weight="bold">D</text>
<path d="M59.2,814.2V812.9H60V811.2H60.7V810.2H61.5V811.3H62.2V812.3H63V811.7H63.7V811.3H64.5V811.3H65.2V811.8H66V811.2H66.7V811.2H67.5V811.2H68.2V810.8H69V809.9H69.7V809.2H70.5V808.4H71.2V807.8H72V808.1H72.7V809.8H73.5V809.8H74.2V808.4H75V806.2H75.7V805.4H76.5V804.9H77.2V805.8H78V807.7H78.7V808.6H79.5V808.7H80.2V808H81V806.7H81.7V806H82.5V802.9H83.2V802.2H84V800.8H84.7V800.2H85.5V801.4H86.2V805.3H87V805.2H87.7V804.3H88.5V803H89.2V799.9H90V796.6H90.7V793.9H91.5V791H92.2V794.2H93V797.5H93.7V796.5H94.5V796.3H95.2V789.5H96V783.9H96.7V770.9H97.5V767.7H98.2V770.5H99V772H99.7V773.9H100.5V758H101.2V748.1H102V741.8H102.7V735.8H103.5V739.1H104.2V730.9H105V728.5H105.7V719.2H106.5V704.4H107.2V703.2H108V702.6H108.7V699.7H109.5V702.4H110.2V683.1H111V675.3H111.7V671.9H112.5V667.1H113.2V676.3H114V671.8H114.7V666H115.5V656.7H116.2V654.4H117V650.5H117.7V650.1H118.5V653.1H119.2V657.2H120V654.9H120.7V648.5H121.5V657.6H122.2V661.5H123V669.5H123.7V678.7H124.5V700.8H125.2V723.9H126V725.9H126.7V734.5H127.5V738H128.2V738.4H128.9V734.1H129.7V740.1H130.4V751.9H131.2V770.1H131.9V786.6H132.7V796.7H133.4V797.7H134.2V796.7H134.9V795.6H135.7V796.5H136.4V802.3H137.2V806.3H137.9V806.9H138.7V807.2H139.4V807.1H140.2V807H140.9V811H141.7V814.2H142.4V814.2ZM118.1,814.2v-173.3h0.8v173.3ZM119.2,814.2v-160h0.8v160ZM122.1,814.2v-168h0.8v168ZM116.3,814.2v-160h0.8v160ZM114.7,814.2v-153.3h0.8v153.3ZM129.9,814.2v-80h0.8v80ZM109.9,814.2v-118.7h0.8v118.7Z" fill="#ff5353" shape-rendering="crispEdges"/>
<line x1="129.9" y1="714.3" x2="246.3" y2="714.3" stroke="#ff5f5f" stroke-width="1"/>
<line x1="130.2" y1="708.7" x2="130.2" y2="719.9" stroke="#ff5f5f" stroke-width="1.1"/>
<text class="ss" x="129.9" y="701.9" font-size="10.75" fill="#ff5f5f" stroke="#ff5f5f" stroke-width="0.15">P3(5.26%)</text>
<rect x="39.5" y="606.2" width="206.8" height="208" fill="none" stroke="#2b2b2b" stroke-width="1.25"/>
<text class="ss" x="29.2" y="814.2" font-size="10.2" text-anchor="middle" transform="rotate(-90 29.2 814.2)" stroke="#000" stroke-width="0.2">0</text>
<text class="ss" x="29.2" y="733.6" font-size="10.2" text-anchor="middle" transform="rotate(-90 29.2 733.6)" stroke="#000" stroke-width="0.2">20</text>
<text class="ss" x="29.2" y="653.2" font-size="10.2" text-anchor="middle" transform="rotate(-90 29.2 653.2)" stroke="#000" stroke-width="0.2">40</text>
<path d="M33.2,814.2H39.5M33.2,733.6H39.5M33.2,653.2H39.5M35.1,798.1H39.5M35.1,782H39.5M35.1,766H39.5M35.1,749.9H39.5M35.1,717.7H39.5M35.1,701.6H39.5M35.1,685.6H39.5M35.1,669.5H39.5M35.1,637.3H39.5M35.1,621.2H39.5M49,814.2V817.9M58.1,814.2V817.9M64.6,814.2V817.9M69.6,814.2V817.9M73.8,814.2V817.9M77.2,814.2V817.9M80.3,814.2V817.9M82.9,814.2V817.9M85.3,814.2V819.8M101,814.2V817.9M110.1,814.2V817.9M116.6,814.2V817.9M121.6,814.2V817.9M125.8,814.2V817.9M129.2,814.2V817.9M132.3,814.2V817.9M134.9,814.2V817.9M137.3,814.2V819.8M153,814.2V817.9M162.1,814.2V817.9M168.6,814.2V817.9M173.6,814.2V817.9M177.8,814.2V817.9M181.2,814.2V817.9M184.3,814.2V817.9M186.9,814.2V817.9M189.3,814.2V819.8M205,814.2V817.9M214.1,814.2V817.9M220.6,814.2V817.9M225.6,814.2V817.9M229.8,814.2V817.9M233.2,814.2V817.9M236.3,814.2V817.9M238.9,814.2V817.9M241.3,814.2V819.8M39.5,814.2V819.8" fill="none" stroke="#2b2b2b" stroke-width="1.1"/>
<text class="ss" x="77.3" y="832.8" font-size="10.7" letter-spacing="0.5" stroke="#000" stroke-width="0.2">10</text>
<text class="ss" x="89.2" y="828.8" font-size="7" stroke="#000" stroke-width="0.15">3</text>
<text class="ss" x="129.3" y="832.8" font-size="10.7" letter-spacing="0.5" stroke="#000" stroke-width="0.2">10</text>
<text class="ss" x="141.2" y="828.8" font-size="7" stroke="#000" stroke-width="0.15">4</text>
<text class="ss" x="181.3" y="832.8" font-size="10.7" letter-spacing="0.5" stroke="#000" stroke-width="0.2">10</text>
<text class="ss" x="193.2" y="828.8" font-size="7" stroke="#000" stroke-width="0.15">5</text>
<text class="ss" x="233.3" y="832.8" font-size="10.7" letter-spacing="0.5" stroke="#000" stroke-width="0.2">10</text>
<text class="ss" x="245.2" y="828.8" font-size="7" stroke="#000" stroke-width="0.15">6</text>
<text class="ss" x="142.7" y="845.9" font-size="10.57" text-anchor="middle" stroke="#000" stroke-width="0.2">CD163 PE-A</text>
<text class="ss" x="13.8" y="709.5" font-size="10.7" text-anchor="middle" transform="rotate(-90 13.8 709.5)" stroke="#000" stroke-width="0.2">Count</text>
<text class="ss" x="145.3" y="598" font-size="13.3" font-weight="bold" text-anchor="middle">M0</text>
<path d="M423.5,814.2V813.2H424.2V810.5H425V812H425.7V812.3H426.5V812H427.2V811.4H428V810.8H428.7V811.3H429.5V812.6H430.2V811.7H431V812H431.7V811.1H432.5V809.6H433.2V808.5H434V805.8H434.7V803.5H435.5V801.9H436.2V800.2H437V799.5H437.7V794H438.5V789.2H439.2V781.4H440V762.1H440.7V744.9H441.5V738.7H442.2V737.8H443V730.9H443.7V722.1H444.5V713.7H445.2V706.6H446V686.7H446.7V669.1H447.5V648.6H448.2V646.7H449V641.6H449.7V648.1H450.5V651.5H451.2V661.4H452V672.6H452.7V688.5H453.5V703.2H454.2V724.2H455V733.5H455.7V747.1H456.5V755.2H457.2V750.6H458V762.9H458.7V792.6H459.5V797H460.2V798.1H461V800.1H461.7V803.3H462.5V806.8H463.2V810H464V811.7H464.7V813.9H465.5V814.2ZM473.9,814.2v-3.2h0.8v3.2Z" fill="#ff5353" shape-rendering="crispEdges"/>
<line x1="456" y1="714.3" x2="572.7" y2="714.3" stroke="#ff5f5f" stroke-width="1"/>
<line x1="456.3" y1="708.7" x2="456.3" y2="719.9" stroke="#ff5f5f" stroke-width="1.1"/>
<text class="ss" x="456" y="701.9" font-size="10.75" fill="#ff5f5f" stroke="#ff5f5f" stroke-width="0.15">P3(8.83%)</text>
<rect x="364.6" y="606.2" width="208.1" height="208" fill="none" stroke="#2b2b2b" stroke-width="1.25"/>
<text class="ss" x="354.3" y="814.2" font-size="10.2" text-anchor="middle" transform="rotate(-90 354.3 814.2)" stroke="#000" stroke-width="0.2">0</text>
<text class="ss" x="354.3" y="732.1" font-size="10.2" text-anchor="middle" transform="rotate(-90 354.3 732.1)" stroke="#000" stroke-width="0.2">20</text>
<text class="ss" x="354.3" y="649.6" font-size="10.2" text-anchor="middle" transform="rotate(-90 354.3 649.6)" stroke="#000" stroke-width="0.2">40</text>
<path d="M358.3,814.2H364.6M358.3,732.1H364.6M358.3,649.6H364.6M360.2,797.7H364.6M360.2,781.3H364.6M360.2,764.8H364.6M360.2,748.4H364.6M360.2,715.4H364.6M360.2,699H364.6M360.2,682.5H364.6M360.2,666.1H364.6M360.2,633.1H364.6M360.2,616.7H364.6M375.2,814.2V817.9M384.3,814.2V817.9M390.8,814.2V817.9M395.8,814.2V817.9M400,814.2V817.9M403.4,814.2V817.9M406.5,814.2V817.9M409.1,814.2V817.9M411.5,814.2V819.8M427.2,814.2V817.9M436.3,814.2V817.9M442.8,814.2V817.9M447.8,814.2V817.9M452,814.2V817.9M455.4,814.2V817.9M458.5,814.2V817.9M461.1,814.2V817.9M463.5,814.2V819.8M479.2,814.2V817.9M488.3,814.2V817.9M494.8,814.2V817.9M499.8,814.2V817.9M504,814.2V817.9M507.4,814.2V817.9M510.5,814.2V817.9M513.1,814.2V817.9M515.5,814.2V819.8M531.2,814.2V817.9M540.3,814.2V817.9M546.8,814.2V817.9M551.8,814.2V817.9M556,814.2V817.9M559.4,814.2V817.9M562.5,814.2V817.9M565.1,814.2V817.9M567.5,814.2V819.8M364.6,814.2V819.8" fill="none" stroke="#2b2b2b" stroke-width="1.1"/>
<text class="ss" x="403.5" y="832.8" font-size="10.7" letter-spacing="0.5" stroke="#000" stroke-width="0.2">10</text>
<text class="ss" x="415.4" y="828.8" font-size="7" stroke="#000" stroke-width="0.15">3</text>
<text class="ss" x="455.5" y="832.8" font-size="10.7" letter-spacing="0.5" stroke="#000" stroke-width="0.2">10</text>
<text class="ss" x="467.4" y="828.8" font-size="7" stroke="#000" stroke-width="0.15">4</text>
<text class="ss" x="507.4" y="832.8" font-size="10.7" letter-spacing="0.5" stroke="#000" stroke-width="0.2">10</text>
<text class="ss" x="519.3" y="828.8" font-size="7" stroke="#000" stroke-width="0.15">5</text>
<text class="ss" x="559.3" y="832.8" font-size="10.7" letter-spacing="0.5" stroke="#000" stroke-width="0.2">10</text>
<text class="ss" x="571.2" y="828.8" font-size="7" stroke="#000" stroke-width="0.15">6</text>
<text class="ss" x="468.45" y="845.9" font-size="10.57" text-anchor="middle" stroke="#000" stroke-width="0.2">CD163 PE-A</text>
<text class="ss" x="338.9" y="709.5" font-size="10.7" text-anchor="middle" transform="rotate(-90 338.9 709.5)" stroke="#000" stroke-width="0.2">Count</text>
<text class="ss" x="465.3" y="598" font-size="13.3" font-weight="bold" text-anchor="middle">M1</text>
<path d="M739.2,814.2V810.3H740V807H740.7V806H741.5V806H742.2V805.8H743V805.5H743.7V805.6H744.5V800.6H745.2V798.2H746V796H746.7V786.8H747.5V779.4H748.2V769.7H749V771H749.7V774.8H750.5V776.7H751.2V770.9H752V766.1H752.7V761.5H753.5V768.9H754.2V774.1H755V782.1H755.7V773.7H756.5V759.5H757.2V752.1H758V745.4H758.7V736.4H759.5V736.1H760.2V720.7H761V711.5H761.7V705.7H762.5V717.9H763.2V723.3H764V711.5H764.7V697.9H765.5V684.8H766.2V687.2H767V679.1H767.7V663.1H768.5V680.9H769.2V712.1H770V711.2H770.7V700.6H771.5V704.4H772.2V689.9H773V681.7H773.7V680.7H774.5V669H775.2V705H776V720.7H776.7V731.6H777.5V741.5H778.2V753.3H779V762.2H779.7V764.5H780.5V770.1H781.2V773.5H782V765.1H782.7V761.9H783.5V767.5H784.2V774.1H785V780H785.7V787.5H786.5V792H787.2V781.5H788V769.9H788.7V771H789.5V792H790.2V804.5H791V812.4H791.7V810.6H792.5V806.3H793.2V802H794V801.7H794.7V799.9H795.5V799.2H796.2V802H797V805.2H797.7V806.1H798.5V808H799.2V808.5H800V809.5H800.7V810.3H801.5V810.7H802.2V810.2H803V811.1H803.7V811.3H804.5V811.1H805.2V811.3H806V811.5H806.7V811.2H807.5V811.6H808.2V812.2H809V812H809.7V812.3H810.5V812.4H811.2V813H812V812.4H812.7V812.3H813.5V812.8H814.2V812.5H815V812.2H815.7V812H816.5V811.7H817.2V811.5H818V811.6H818.7V812.7H819.5V813.9H820.2V814.2ZM768,814.2v-152h0.8v152ZM774.7,814.2v-146.7h0.8v146.7ZM772.5,814.2v-126.7h0.8v126.7ZM765.3,814.2v-132h0.8v132ZM762.1,814.2v-110.7h0.8v110.7ZM788.8,814.2v-56h0.8v56ZM782.7,814.2v-54.7h0.8v54.7Z" fill="#ff5353" shape-rendering="crispEdges"/>
<line x1="776.5" y1="714.3" x2="887.7" y2="714.3" stroke="#ff5f5f" stroke-width="1"/>
<text class="ss" x="770.7" y="701.9" font-size="10.75" fill="#ff5f5f" stroke="#ff5f5f" stroke-width="0.15">P3(43.18%)</text>
<rect x="680" y="606.2" width="207.7" height="208" fill="none" stroke="#2b2b2b" stroke-width="1.25"/>
<text class="ss" x="669.7" y="814.2" font-size="10.2" text-anchor="middle" transform="rotate(-90 669.7 814.2)" stroke="#000" stroke-width="0.2">0</text>
<text class="ss" x="669.7" y="712.3" font-size="10.2" text-anchor="middle" transform="rotate(-90 669.7 712.3)" stroke="#000" stroke-width="0.2">20</text>
<text class="ss" x="669.7" y="610.6" font-size="10.2" text-anchor="middle" transform="rotate(-90 669.7 610.6)" stroke="#000" stroke-width="0.2">40</text>
<path d="M673.7,814.2H680M673.7,712.3H680M673.7,610.6H680M675.6,793.8H680M675.6,773.5H680M675.6,753.1H680M675.6,732.8H680M675.6,692H680M675.6,671.7H680M675.6,651.3H680M675.6,631H680M689.6,814.2V817.9M698.7,814.2V817.9M705.2,814.2V817.9M710.2,814.2V817.9M714.4,814.2V817.9M717.8,814.2V817.9M720.9,814.2V817.9M723.5,814.2V817.9M725.9,814.2V819.8M741.6,814.2V817.9M750.7,814.2V817.9M757.2,814.2V817.9M762.2,814.2V817.9M766.4,814.2V817.9M769.8,814.2V817.9M772.9,814.2V817.9M775.5,814.2V817.9M777.9,814.2V819.8M793.6,814.2V817.9M802.7,814.2V817.9M809.2,814.2V817.9M814.2,814.2V817.9M818.4,814.2V817.9M821.8,814.2V817.9M824.9,814.2V817.9M827.5,814.2V817.9M829.9,814.2V819.8M845.6,814.2V817.9M854.7,814.2V817.9M861.2,814.2V817.9M866.2,814.2V817.9M870.4,814.2V817.9M873.8,814.2V817.9M876.9,814.2V817.9M879.5,814.2V817.9M881.9,814.2V819.8M680,814.2V819.8" fill="none" stroke="#2b2b2b" stroke-width="1.1"/>
<text class="ss" x="717.9" y="832.8" font-size="10.7" letter-spacing="0.5" stroke="#000" stroke-width="0.2">10</text>
<text class="ss" x="729.8" y="828.8" font-size="7" stroke="#000" stroke-width="0.15">3</text>
<text class="ss" x="769.9" y="832.8" font-size="10.7" letter-spacing="0.5" stroke="#000" stroke-width="0.2">10</text>
<text class="ss" x="781.8" y="828.8" font-size="7" stroke="#000" stroke-width="0.15">4</text>
<text class="ss" x="821.9" y="832.8" font-size="10.7" letter-spacing="0.5" stroke="#000" stroke-width="0.2">10</text>
<text class="ss" x="833.8" y="828.8" font-size="7" stroke="#000" stroke-width="0.15">5</text>
<text class="ss" x="873.9" y="832.8" font-size="10.7" letter-spacing="0.5" stroke="#000" stroke-width="0.2">10</text>
<text class="ss" x="885.8" y="828.8" font-size="7" stroke="#000" stroke-width="0.15">6</text>
<text class="ss" x="783.65" y="845.9" font-size="10.57" text-anchor="middle" stroke="#000" stroke-width="0.2">CD163 PE-A</text>
<text class="ss" x="654.3" y="709.5" font-size="10.7" text-anchor="middle" transform="rotate(-90 654.3 709.5)" stroke="#000" stroke-width="0.2">Count</text>
<text class="ss" x="778.7" y="598" font-size="13.3" font-weight="bold" text-anchor="middle">M2</text>
<text class="ss" x="992.8" y="632.07" font-size="12.2" font-weight="bold" text-anchor="end" fill="#0a0a0a" stroke="#0a0a0a" stroke-width="0.3">50</text>
<text class="ss" x="992.8" y="665.37" font-size="12.2" font-weight="bold" text-anchor="end" fill="#0a0a0a" stroke="#0a0a0a" stroke-width="0.3">40</text>
<text class="ss" x="992.8" y="698.27" font-size="12.2" font-weight="bold" text-anchor="end" fill="#0a0a0a" stroke="#0a0a0a" stroke-width="0.3">30</text>
<text class="ss" x="992.8" y="731.17" font-size="12.2" font-weight="bold" text-anchor="end" fill="#0a0a0a" stroke="#0a0a0a" stroke-width="0.3">20</text>
<text class="ss" x="992.8" y="763.97" font-size="12.2" font-weight="bold" text-anchor="end" fill="#0a0a0a" stroke="#0a0a0a" stroke-width="0.3">10</text>
<text class="ss" x="992.8" y="796.87" font-size="12.2" font-weight="bold" text-anchor="end" fill="#0a0a0a" stroke="#0a0a0a" stroke-width="0.3">0</text>
<path d="M999.4,626.9V793.4M998.5,792.5H1130.2M994.4,627.7H999.4M994.4,661H999.4M994.4,693.9H999.4M994.4,726.8H999.4M994.4,759.6H999.4M994.4,792.5H999.4M1025,792.5V797.5M1064.6,792.5V797.5M1104,792.5V797.5" fill="none" stroke="#0a0a0a" stroke-width="1.7"/>
<text class="ss" x="1025" y="809.7" font-size="12.2" font-weight="bold" text-anchor="middle" fill="#0a0a0a" stroke="#0a0a0a" stroke-width="0.3">M0</text>
<text class="ss" x="1064.6" y="809.7" font-size="12.2" font-weight="bold" text-anchor="middle" fill="#0a0a0a" stroke="#0a0a0a" stroke-width="0.3">M1</text>
<text class="ss" x="1104" y="809.7" font-size="12.2" font-weight="bold" text-anchor="middle" fill="#0a0a0a" stroke="#0a0a0a" stroke-width="0.3">M2</text>
<text class="ss" x="972" y="710.5" font-size="13.6" font-weight="bold" text-anchor="middle" fill="#0a0a0a" transform="rotate(-90 972 710.5)" stroke="#0a0a0a" stroke-width="0.3">CD163+ cells/CD14+ cells %</text>
<g fill="#0a0a0a">
<line x1="1012.5" y1="771.1" x2="1038.5" y2="771.1" stroke="#0a0a0a" stroke-width="1"/>
<path d="M1025.5,767.4V775.6M1022.1,767.4H1028.9M1022.1,775.6H1028.9" fill="none" stroke="#0a0a0a" stroke-width="1"/>
<circle cx="1021.3" cy="775.4" r="2.4"/>
<circle cx="1025.2" cy="767.4" r="2.4"/>
<circle cx="1029.3" cy="770.7" r="2.4"/>
</g>
<g fill="#0a0a0a">
<line x1="1052" y1="763.1" x2="1078" y2="763.1" stroke="#0a0a0a" stroke-width="1"/>
<rect x="1054.7" y="758.5" width="4.7" height="4.7"/>
<rect x="1062.2" y="761.9" width="4.7" height="4.7"/>
<rect x="1069.9" y="761.4" width="4.7" height="4.7"/>
</g>
<text class="ss" x="1065" y="760.2" font-size="12.2" text-anchor="middle" fill="#222" stroke="#222" stroke-width="0.25">*</text>
<g fill="#0a0a0a">
<line x1="1091" y1="651.5" x2="1117.5" y2="651.5" stroke="#0a0a0a" stroke-width="1"/>
<path d="M1096.7,648.5L1099.3,652.8L1094.1,652.8Z"/>
<path d="M1104,651.1L1106.6,655.4L1101.4,655.4Z"/>
<path d="M1111.6,648.5L1114.2,652.8L1109,652.8Z"/>
</g>
<text class="ss" x="1104.25" y="649.4" font-size="12.2" text-anchor="middle" fill="#222" stroke="#222" stroke-width="0.25">***</text>
</g>
<g id="panel_e">
<text class="ss" x="2.1" y="870.2" font-size="21.4" font-weight="bold">E</text>
<text class="ss" x="113.9" y="889.2" font-size="13.7" font-weight="bold" text-anchor="middle">M0 Exo</text>
<text class="ss" x="345.8" y="889.2" font-size="13.7" font-weight="bold" text-anchor="middle">M1 Exo</text>
<text class="ss" x="569" y="889.2" font-size="13.7" font-weight="bold" text-anchor="middle">M2 Exo</text>
<clipPath id="mc0"><rect x="2.3" y="894" width="224.4" height="167.7"/></clipPath>
<g clip-path="url(#mc0)"><g filter="url(#ag0)">
<rect x="2.3" y="894" width="224.4" height="167.7" fill="#bfbfbf"/>
<rect x="2.3" y="894" width="224.4" height="167.7" filter="url(#bl0)"/>
<circle cx="102.8" cy="984.3" r="28" fill="url(#halo)" opacity="0.55"/>
<g filter="url(#disp)">
<circle cx="101.8" cy="982.3" r="15.4" fill="#262626" stroke="none" stroke-width="1"/>
<circle cx="101.8" cy="982.3" r="11.6" fill="none" stroke="#8a8a8a" stroke-width="1.5"/>
<circle cx="101.8" cy="982.3" r="10.6" fill="#2b2b2b" stroke="none" stroke-width="1"/>
</g>
<ellipse cx="101" cy="981.5" rx="6.5" ry="6" fill="#0c0c0c" opacity="0.7" filter="url(#b2)"/>
<g filter="url(#disp)"><ellipse cx="137" cy="973.8" rx="14.6" ry="16.8" fill="#868686" opacity="0.8"/><ellipse cx="136.4" cy="973.4" rx="12.2" ry="14.4" fill="#bfbfbf" opacity="0.95"/></g>
<ellipse cx="121.5" cy="978" rx="4" ry="9" fill="#333" opacity="0.5" filter="url(#b2)"/>
<ellipse cx="212.5" cy="947" rx="6" ry="12" fill="#555" opacity="0.5" filter="url(#b2)"/>
<g filter="url(#disp)"><circle cx="212.8" cy="932.3" r="14" fill="#5c5c5c" stroke="none" stroke-width="1" opacity="0.92"/><circle cx="212.8" cy="932.3" r="10.6" fill="none" stroke="#a0a0a0" stroke-width="1.6" opacity="0.85"/><circle cx="212.8" cy="932.3" r="8.2" fill="#6c6c6c" stroke="none" stroke-width="1" opacity="0.95"/><circle cx="213" cy="932" r="5" fill="none" stroke="#979797" stroke-width="1" opacity="0.75"/></g>
<ellipse cx="27.8" cy="994.6" rx="7" ry="9" fill="#3a3a3a" opacity="0.33" filter="url(#b2)"/>
<ellipse cx="34.5" cy="930.4" rx="5" ry="5" fill="#3a3a3a" opacity="0.3" filter="url(#b2)"/>
<ellipse cx="189.8" cy="985" rx="13" ry="5" fill="#3a3a3a" opacity="0.3" filter="url(#b2)"/>
<ellipse cx="178" cy="981" rx="3" ry="8" fill="#3a3a3a" opacity="0.28" filter="url(#b2)"/>
<ellipse cx="203" cy="980" rx="4" ry="6" fill="#3a3a3a" opacity="0.28" filter="url(#b2)"/>
<ellipse cx="28" cy="1025" rx="5" ry="8" fill="#3a3a3a" opacity="0.25" filter="url(#b2)"/>
<ellipse cx="22" cy="1017" rx="4" ry="4" fill="#3a3a3a" opacity="0.25" filter="url(#b2)"/>
<ellipse cx="64" cy="994" rx="4" ry="3" fill="#3a3a3a" opacity="0.22" filter="url(#b2)"/>
<ellipse cx="76" cy="935" rx="4" ry="5" fill="#3a3a3a" opacity="0.25" filter="url(#b2)"/>
<ellipse cx="217" cy="997" rx="3" ry="6" fill="#3a3a3a" opacity="0.22" filter="url(#b2)"/>
<ellipse cx="163" cy="1022" rx="5" ry="4" fill="#3a3a3a" opacity="0.22" filter="url(#b2)"/>
<ellipse cx="110" cy="1030" rx="6" ry="3" fill="#3a3a3a" opacity="0.2" filter="url(#b2)"/>
<ellipse cx="112" cy="1022" rx="3" ry="3" fill="#3a3a3a" opacity="0.2" filter="url(#b2)"/>
<ellipse cx="204" cy="1033" rx="3" ry="3" fill="#3a3a3a" opacity="0.28" filter="url(#b2)"/>
<ellipse cx="60" cy="920" rx="3" ry="3" fill="#3a3a3a" opacity="0.28" filter="url(#b2)"/>
<ellipse cx="75" cy="902" rx="3" ry="3" fill="#3a3a3a" opacity="0.28" filter="url(#b2)"/>
<ellipse cx="104" cy="897" rx="3" ry="2.5" fill="#3a3a3a" opacity="0.28" filter="url(#b2)"/>
<ellipse cx="142" cy="901" rx="3" ry="3" fill="#3a3a3a" opacity="0.22" filter="url(#b2)"/>
<ellipse cx="48" cy="1055" rx="4" ry="3" fill="#3a3a3a" opacity="0.2" filter="url(#b2)"/>
<ellipse cx="135" cy="1060" rx="4" ry="2" fill="#3a3a3a" opacity="0.22" filter="url(#b2)"/>
<ellipse cx="215" cy="1053" rx="8" ry="7" fill="#3a3a3a" opacity="0.32" filter="url(#b2)"/>
<ellipse cx="8" cy="1052" rx="5" ry="5" fill="#3a3a3a" opacity="0.25" filter="url(#b2)"/>
<circle cx="60" cy="920" r="2.6" fill="none" stroke="#cfcfcf" stroke-width="0.9" opacity="0.6" filter="url(#b06)"/>
<circle cx="75" cy="902" r="2.6" fill="none" stroke="#cfcfcf" stroke-width="0.9" opacity="0.6" filter="url(#b06)"/>
<circle cx="104" cy="897" r="2.4" fill="none" stroke="#cfcfcf" stroke-width="0.9" opacity="0.6" filter="url(#b06)"/>
<circle cx="142" cy="901" r="2.6" fill="none" stroke="#cfcfcf" stroke-width="0.9" opacity="0.6" filter="url(#b06)"/>
<circle cx="64" cy="994" r="2.8" fill="none" stroke="#cfcfcf" stroke-width="0.9" opacity="0.6" filter="url(#b06)"/>
</g></g>
<path d="M186.7,1062.9H225.7" fill="none" stroke="#555" stroke-width="0.7" stroke-dasharray="0.7 2.1"/>
<text class="ss" x="215.7" y="1067.3" font-size="2.3" fill="#444">100nm</text>
<clipPath id="mc1"><rect x="229.8" y="894" width="224.2" height="167.7"/></clipPath>
<g clip-path="url(#mc1)"><g filter="url(#ag1)">
<rect x="229.8" y="894" width="224.2" height="167.7" fill="#ababab"/>
<rect x="229.8" y="894" width="224.2" height="167.7" filter="url(#bl1)"/>
<ellipse cx="342" cy="978" rx="150" ry="110" fill="url(#vig)"/>
<circle cx="332.9" cy="976.4" r="38" fill="url(#halo)" opacity="0.95"/>
<g filter="url(#disp)">
<circle cx="332.9" cy="976.4" r="13.4" fill="#2c2c2c" stroke="none" stroke-width="1"/>
<circle cx="332.9" cy="976.4" r="10.6" fill="none" stroke="#bcbcbc" stroke-width="2.1"/>
<circle cx="332.9" cy="976.4" r="9.1" fill="#363636" stroke="none" stroke-width="1"/>
</g>
<ellipse cx="331" cy="974" rx="4" ry="3" fill="#111" opacity="0.6" filter="url(#b1)"/>
<circle cx="344.8" cy="916" r="2.3" fill="none" stroke="#cdcdcd" stroke-width="1" opacity="0.8" filter="url(#b06)"/>
<circle cx="331.4" cy="959.7" r="2.3" fill="none" stroke="#cdcdcd" stroke-width="1" opacity="0.8" filter="url(#b06)"/>
<circle cx="345.4" cy="993.6" r="2.2" fill="none" stroke="#cdcdcd" stroke-width="1" opacity="0.8" filter="url(#b06)"/>
<circle cx="412" cy="945" r="3.2" fill="none" stroke="#cdcdcd" stroke-width="1" opacity="0.8" filter="url(#b06)"/>
<circle cx="388" cy="1040.6" r="5.5" fill="#c4c4c4" stroke="none" stroke-width="1" opacity="0.45" filter="url(#b1)"/>
<circle cx="388" cy="1040.6" r="5.5" fill="none" stroke="#777" stroke-width="0.9" opacity="0.5" filter="url(#b06)"/>
<circle cx="405" cy="1049" r="4.5" fill="#c4c4c4" stroke="none" stroke-width="1" opacity="0.45" filter="url(#b1)"/>
<circle cx="405" cy="1049" r="4.5" fill="none" stroke="#777" stroke-width="0.9" opacity="0.5" filter="url(#b06)"/>
<circle cx="283" cy="999" r="3" fill="#c4c4c4" stroke="none" stroke-width="1" opacity="0.45" filter="url(#b1)"/>
<circle cx="283" cy="999" r="3" fill="none" stroke="#777" stroke-width="0.9" opacity="0.5" filter="url(#b06)"/>
<circle cx="257" cy="1023" r="5" fill="#c4c4c4" stroke="none" stroke-width="1" opacity="0.45" filter="url(#b1)"/>
<circle cx="257" cy="1023" r="5" fill="none" stroke="#777" stroke-width="0.9" opacity="0.5" filter="url(#b06)"/>
<ellipse cx="438" cy="1053" rx="7" ry="3" fill="#444" opacity="0.5" filter="url(#b1)" transform="rotate(-35 438 1053)"/>
</g></g>
<path d="M414,1062.9H453" fill="none" stroke="#555" stroke-width="0.7" stroke-dasharray="0.7 2.1"/>
<text class="ss" x="443" y="1067.3" font-size="2.3" fill="#444">100nm</text>
<clipPath id="mc2"><rect x="457.2" y="894" width="223.5" height="167.7"/></clipPath>
<g clip-path="url(#mc2)"><g filter="url(#ag2)">
<rect x="457.2" y="894" width="223.5" height="167.7" fill="#ababab"/>
<rect x="457.2" y="894" width="223.5" height="167.7" filter="url(#bl2)"/>
<ellipse cx="565" cy="978" rx="150" ry="110" fill="url(#vig)"/>
<circle cx="558.5" cy="977.5" r="30" fill="url(#halo)" opacity="0.8"/>
<g filter="url(#disp)"><circle cx="560.3" cy="975.8" r="11.4" fill="#242424" stroke="none" stroke-width="1"/><circle cx="560.6" cy="976.3" r="8.5" fill="#8c8c8c" stroke="none" stroke-width="1"/><ellipse cx="558.3" cy="973.2" rx="5.6" ry="4.4" fill="#1c1c1c" opacity="0.9"/><ellipse cx="562" cy="980.5" rx="5" ry="2.6" fill="#b0b0b0" opacity="0.7"/></g>
<g filter="url(#disp2)"><circle cx="644.9" cy="953.1" r="7.4" fill="#565656" stroke="none" stroke-width="1" opacity="0.8"/><circle cx="644.6" cy="952.8" r="6.4" fill="#b9b9b9" stroke="none" stroke-width="1"/></g>
<g filter="url(#disp2)"><circle cx="599.9" cy="1007.3" r="8.8" fill="#565656" stroke="none" stroke-width="1" opacity="0.8"/><circle cx="599.6" cy="1007" r="7.8" fill="#b9b9b9" stroke="none" stroke-width="1"/></g>
<ellipse cx="511.5" cy="938" rx="8" ry="6" fill="#3c3c3c" opacity="0.5" filter="url(#b2)"/>
<ellipse cx="521" cy="953" rx="5" ry="8" fill="#3c3c3c" opacity="0.3" filter="url(#b2)"/>
<g filter="url(#disp2)" opacity="0.9"><ellipse cx="514.5" cy="936.5" rx="6.8" ry="5.2" fill="#c3c3c3"/><ellipse cx="521.5" cy="946" rx="5.2" ry="6.5" fill="#bebebe"/><ellipse cx="527" cy="957" rx="5.6" ry="6" fill="#c3c3c3"/></g>
<ellipse cx="461" cy="975.5" rx="7" ry="9" fill="#3a3a3a" opacity="0.6" filter="url(#b2)"/>
<ellipse cx="464" cy="990" rx="6" ry="5" fill="#c8c8c8" opacity="0.4" filter="url(#b1)"/>
<ellipse cx="577" cy="898" rx="10" ry="4" fill="#444" opacity="0.3" filter="url(#b2)"/>
<ellipse cx="676" cy="977" rx="3" ry="5" fill="#444" opacity="0.35" filter="url(#b1)"/>
<circle cx="650.4" cy="970.6" r="2.3" fill="none" stroke="#cacaca" stroke-width="1" opacity="0.7" filter="url(#b06)"/>
<circle cx="650.4" cy="970.6" r="3.5" fill="none" stroke="#555" stroke-width="0.8" opacity="0.45" filter="url(#b06)"/>
<circle cx="532.5" cy="1012.8" r="2.6" fill="none" stroke="#cacaca" stroke-width="1" opacity="0.7" filter="url(#b06)"/>
<circle cx="532.5" cy="1012.8" r="3.8" fill="none" stroke="#555" stroke-width="0.8" opacity="0.45" filter="url(#b06)"/>
<circle cx="602" cy="959" r="2.3" fill="none" stroke="#cacaca" stroke-width="1" opacity="0.7" filter="url(#b06)"/>
<circle cx="602" cy="959" r="3.5" fill="none" stroke="#555" stroke-width="0.8" opacity="0.45" filter="url(#b06)"/>
</g></g>
<path d="M640.7,1062.9H679.7" fill="none" stroke="#555" stroke-width="0.7" stroke-dasharray="0.7 2.1"/>
<text class="ss" x="669.7" y="1067.3" font-size="2.3" fill="#444">100nm</text>
<rect x="727.2" y="949.4" width="118.4" height="39.3" fill="#eeeeee" stroke="none" stroke-width="1"/>
<rect x="738.6" y="961.1" width="26" height="14.6" rx="3" fill="#4a4a4a" opacity="0.42" filter="url(#bh)"/>
<rect x="739.4" y="963.5" width="24.4" height="9.8" rx="4.6" fill="#2a2a2a" opacity="0.75" filter="url(#bb)"/>
<rect x="740.3" y="965.5" width="22.6" height="5.8" rx="2.9" fill="#0c0c0c" opacity="1.0" filter="url(#bb)"/>
<rect x="771.8" y="961.1" width="25.8" height="14.6" rx="3" fill="#4a4a4a" opacity="0.42" filter="url(#bh)"/>
<rect x="772.6" y="963.5" width="24.2" height="9.8" rx="4.6" fill="#2a2a2a" opacity="0.75" filter="url(#bb)"/>
<rect x="773.5" y="965.5" width="22.4" height="5.8" rx="2.9" fill="#0c0c0c" opacity="1.0" filter="url(#bb)"/>
<rect x="806.4" y="961.6" width="23.6" height="13.2" rx="3" fill="#4a4a4a" opacity="0.42" filter="url(#bh)"/>
<rect x="807.2" y="964" width="22" height="8.4" rx="3.9" fill="#2a2a2a" opacity="0.75" filter="url(#bb)"/>
<rect x="808.1" y="966" width="20.2" height="4.4" rx="2.2" fill="#0c0c0c" opacity="0.95" filter="url(#bb)"/>
<rect x="729.1" y="1021.9" width="118.8" height="39.7" fill="#eeeeee" stroke="none" stroke-width="1"/>
<rect x="738.6" y="1032" width="26.4" height="17.8" rx="3" fill="#4a4a4a" opacity="0.5" filter="url(#bh)"/>
<rect x="739.4" y="1037.4" width="24.8" height="10" rx="4.7" fill="#2a2a2a" opacity="0.75" filter="url(#bb)"/>
<rect x="740.3" y="1039.4" width="23" height="6" rx="3" fill="#0c0c0c" opacity="0.92" filter="url(#bb)"/>
<rect x="772.8" y="1033.2" width="25.6" height="17.1" rx="3" fill="#4a4a4a" opacity="0.5" filter="url(#bh)"/>
<rect x="773.6" y="1038.1" width="24" height="9.8" rx="4.6" fill="#2a2a2a" opacity="0.75" filter="url(#bb)"/>
<rect x="774.5" y="1040.1" width="22.2" height="5.8" rx="2.9" fill="#0c0c0c" opacity="0.95" filter="url(#bb)"/>
<rect x="808.2" y="1032.7" width="26.4" height="17.6" rx="3" fill="#4a4a4a" opacity="0.5" filter="url(#bh)"/>
<rect x="809" y="1038.1" width="24.8" height="9.8" rx="4.6" fill="#2a2a2a" opacity="0.75" filter="url(#bb)"/>
<rect x="809.9" y="1040.1" width="23" height="5.8" rx="2.9" fill="#0c0c0c" opacity="0.95" filter="url(#bb)"/>
<text class="ss" x="696" y="974.3" font-size="13.45" font-weight="bold">CD9</text>
<text class="ss" x="690.4" y="1047.8" font-size="13.65" font-weight="bold">CD63</text>
<text class="ss" x="850.2" y="971.5" font-size="13.6" font-weight="bold">- 23kDa</text>
<text class="ss" x="851.4" y="1044.3" font-size="13.6" font-weight="bold">- 26kDa</text>
<text class="ss" x="752.1" y="941.4" font-size="13.6" font-weight="bold" transform="rotate(-45 752.1 941.4)">M0 Exo</text>
<text class="ss" x="786" y="941.4" font-size="13.6" font-weight="bold" transform="rotate(-45 786 941.4)">M1 Exo</text>
<text class="ss" x="818.6" y="941.4" font-size="13.6" font-weight="bold" transform="rotate(-45 818.6 941.4)">M2 Exo</text>
</g>
<g id="panel_f">
<text class="ss" x="957.1" y="870.3" font-size="21.4" font-weight="bold">F</text>
<text class="ss" x="993" y="915.77" font-size="12.2" font-weight="bold" text-anchor="end" fill="#0a0a0a" stroke="#0a0a0a" stroke-width="0.3">30</text>
<text class="ss" x="993" y="970.67" font-size="12.2" font-weight="bold" text-anchor="end" fill="#0a0a0a" stroke="#0a0a0a" stroke-width="0.3">20</text>
<text class="ss" x="993" y="1025.67" font-size="12.2" font-weight="bold" text-anchor="end" fill="#0a0a0a" stroke="#0a0a0a" stroke-width="0.3">10</text>
<text class="ss" x="993" y="1080.57" font-size="12.2" font-weight="bold" text-anchor="end" fill="#0a0a0a" stroke="#0a0a0a" stroke-width="0.3">0</text>
<path d="M999.6,910.5V1077M998.8,1076.2H1130.7M994.6,911.4H999.6M994.6,966.3H999.6M994.6,1021.3H999.6M994.6,1076.2H999.6M1025.6,1076.2V1081.2M1065,1076.2V1081.2M1104.7,1076.2V1081.2" fill="none" stroke="#0a0a0a" stroke-width="1.7"/>
<text class="ss" x="1028.6" y="1089.5" font-size="13" font-weight="bold" text-anchor="end" fill="#0a0a0a" transform="rotate(-45 1028.6 1089.5)" stroke="#0a0a0a" stroke-width="0.3">M0 Exo</text>
<text class="ss" x="1068" y="1089.5" font-size="13" font-weight="bold" text-anchor="end" fill="#0a0a0a" transform="rotate(-45 1068 1089.5)" stroke="#0a0a0a" stroke-width="0.3">M1 Exo</text>
<text class="ss" x="1107.7" y="1089.5" font-size="13" font-weight="bold" text-anchor="end" fill="#0a0a0a" transform="rotate(-45 1107.7 1089.5)" stroke="#0a0a0a" stroke-width="0.3">M2 Exo</text>
<text class="ss" x="971.5" y="994" font-size="13.45" font-weight="bold" text-anchor="middle" fill="#0a0a0a" transform="rotate(-90 971.5 994)" stroke="#0a0a0a" stroke-width="0.3">Relative expression of HOTTIP</text>
<g fill="#0a0a0a">
<line x1="1012.5" y1="1070.6" x2="1038.7" y2="1070.6" stroke="#0a0a0a" stroke-width="1.6"/>
<circle cx="1017.6" cy="1070.6" r="3"/>
<circle cx="1025.6" cy="1070.6" r="3"/>
<circle cx="1033.6" cy="1070.6" r="3"/>
</g>
<g fill="#0a0a0a">
<line x1="1052" y1="929.4" x2="1078.3" y2="929.4" stroke="#0a0a0a" stroke-width="1.5"/>
<path d="M1065.2,923.3V935.2M1060.8,923.3H1069.6M1060.8,935.2H1069.6" fill="none" stroke="#0a0a0a" stroke-width="1.5"/>
<rect x="1062.4" y="920.5" width="5.6" height="5.6"/>
<rect x="1057.5" y="932" width="5.6" height="5.6"/>
<rect x="1067.2" y="927.6" width="5.6" height="5.6"/>
</g>
<text class="ss" x="1065.15" y="919.2" font-size="12.2" text-anchor="middle" fill="#222" stroke="#222" stroke-width="0.25">***</text>
<g fill="#0a0a0a">
<line x1="1091.5" y1="1012.3" x2="1117.8" y2="1012.3" stroke="#0a0a0a" stroke-width="1.5"/>
<path d="M1104.7,1007.3V1017.2M1098.2,1007.3H1111.2M1098.2,1017.2H1111.2" fill="none" stroke="#0a0a0a" stroke-width="1.5"/>
<path d="M1097.1,1006.4L1100.2,1011.6L1094,1011.6Z"/>
<path d="M1112.3,1007.5L1115.4,1012.7L1109.2,1012.7Z"/>
<path d="M1104.7,1016.2L1107.8,1021.4L1101.6,1021.4Z"/>
</g>
<text class="ss" x="1104.65" y="1006" font-size="12.2" text-anchor="middle" fill="#222" stroke="#222" stroke-width="0.25">***</text>
</g>
<g id="panel_gh">
<text class="ss" x="3.5" y="1113.4" font-size="21.4" font-weight="bold">G</text>
<text class="ss" x="279.1" y="1113.6" font-size="21.4" font-weight="bold">H</text>
<text class="ss" x="46.6" y="1152.1" font-size="12" font-weight="bold" text-anchor="end" fill="#0a0a0a" stroke="#0a0a0a" stroke-width="0.3">900</text>
<text class="ss" x="46.6" y="1171.1" font-size="12" font-weight="bold" text-anchor="end" fill="#0a0a0a" stroke="#0a0a0a" stroke-width="0.3">850</text>
<text class="ss" x="46.6" y="1190.2" font-size="12" font-weight="bold" text-anchor="end" fill="#0a0a0a" stroke="#0a0a0a" stroke-width="0.3">800</text>
<text class="ss" x="46.6" y="1209.2" font-size="12" font-weight="bold" text-anchor="end" fill="#0a0a0a" stroke="#0a0a0a" stroke-width="0.3">750</text>
<text class="ss" x="46.6" y="1228.2" font-size="12" font-weight="bold" text-anchor="end" fill="#0a0a0a" stroke="#0a0a0a" stroke-width="0.3">700</text>
<path d="M53.2,1147V1223.9M48.2,1147.8H53.2M48.2,1166.8H53.2M48.2,1185.9H53.2M48.2,1204.9H53.2M48.2,1223.9H53.2M48.2,1223.9H58.2" fill="none" stroke="#0a0a0a" stroke-width="1.7"/>
<text class="ss" x="46.6" y="1242.9" font-size="12" font-weight="bold" text-anchor="end" fill="#0a0a0a" stroke="#0a0a0a" stroke-width="0.3">1.5</text>
<text class="ss" x="46.6" y="1268.4" font-size="12" font-weight="bold" text-anchor="end" fill="#0a0a0a" stroke="#0a0a0a" stroke-width="0.3">1.0</text>
<text class="ss" x="46.6" y="1293.9" font-size="12" font-weight="bold" text-anchor="end" fill="#0a0a0a" stroke="#0a0a0a" stroke-width="0.3">0.5</text>
<text class="ss" x="46.6" y="1319.3" font-size="12" font-weight="bold" text-anchor="end" fill="#0a0a0a" stroke="#0a0a0a" stroke-width="0.3">0.0</text>
<path d="M53.2,1237.8V1315.8M52.4,1315H250.8M48.2,1238.6H53.2M48.2,1264.1H53.2M48.2,1289.6H53.2M48.2,1315H53.2M77.6,1315V1320M114.3,1315V1320M151.4,1315V1320M188.1,1315V1320M224.9,1315V1320M48.2,1238.6H58.2" fill="none" stroke="#0a0a0a" stroke-width="1.7"/>
<text class="ss" x="80.6" y="1328.9" font-size="13" font-weight="bold" text-anchor="end" fill="#0a0a0a" transform="rotate(-45 80.6 1328.9)" stroke="#0a0a0a" stroke-width="0.3">M1</text>
<text class="ss" x="117.3" y="1328.9" font-size="13" font-weight="bold" text-anchor="end" fill="#0a0a0a" transform="rotate(-45 117.3 1328.9)" stroke="#0a0a0a" stroke-width="0.3">oe-NC M1</text>
<text class="ss" x="154.4" y="1328.9" font-size="13" font-weight="bold" text-anchor="end" fill="#0a0a0a" transform="rotate(-45 154.4 1328.9)" stroke="#0a0a0a" stroke-width="0.3">oe-HOTTIP M1</text>
<text class="ss" x="191.1" y="1328.9" font-size="13" font-weight="bold" text-anchor="end" fill="#0a0a0a" transform="rotate(-45 191.1 1328.9)" stroke="#0a0a0a" stroke-width="0.3">sh-NC M1</text>
<text class="ss" x="227.9" y="1328.9" font-size="13" font-weight="bold" text-anchor="end" fill="#0a0a0a" transform="rotate(-45 227.9 1328.9)" stroke="#0a0a0a" stroke-width="0.3">sh-HOTTIP M1</text>
<text class="ss" x="17.3" y="1230.3" font-size="13.4" font-weight="bold" text-anchor="middle" fill="#0a0a0a" transform="rotate(-90 17.3 1230.3)" stroke="#0a0a0a" stroke-width="0.3">Relative expression of HOTTIP</text>
<g fill="#0a0a0a">
<line x1="65.3" y1="1264.3" x2="89.8" y2="1264.3" stroke="#0a0a0a" stroke-width="1"/>
<path d="M77.5,1262.2V1266.3M74.1,1262.2H81M74.1,1266.3H81" fill="none" stroke="#0a0a0a" stroke-width="1"/>
<circle cx="70" cy="1262" r="2.4"/>
<circle cx="77.5" cy="1265.5" r="2.4"/>
<circle cx="85.2" cy="1265" r="2.4"/>
</g>
<g fill="#0a0a0a">
<line x1="102" y1="1265.7" x2="126.6" y2="1265.7" stroke="#0a0a0a" stroke-width="1"/>
<rect x="104.6" y="1262" width="4.7" height="4.7"/>
<rect x="112" y="1265" width="4.7" height="4.7"/>
<rect x="119.7" y="1263.2" width="4.7" height="4.7"/>
</g>
<g fill="#0a0a0a">
<line x1="139.3" y1="1182.2" x2="163.3" y2="1182.2" stroke="#0a0a0a" stroke-width="1"/>
<path d="M151.3,1174.5V1189.9M147.9,1174.5H154.7M147.9,1189.9H154.7" fill="none" stroke="#0a0a0a" stroke-width="1"/>
<path d="M147.5,1173.3L150.1,1177.6L144.9,1177.6Z"/>
<path d="M155.2,1178.4L157.8,1182.7L152.6,1182.7Z"/>
<path d="M151.2,1187.3L153.8,1191.6L148.6,1191.6Z"/>
</g>
<text class="ss" x="151.3" y="1174.8" font-size="12.2" text-anchor="middle" fill="#222" stroke="#222" stroke-width="0.25">***</text>
<g fill="#0a0a0a">
<line x1="176" y1="1263.4" x2="200.5" y2="1263.4" stroke="#0a0a0a" stroke-width="1"/>
<path d="M188.2,1261.6V1265.2M184.8,1261.6H191.7M184.8,1265.2H191.7" fill="none" stroke="#0a0a0a" stroke-width="1"/>
<path d="M180.8,1264.1L183.4,1259.8L178.2,1259.8Z"/>
<path d="M188.5,1267.1L191.1,1262.8L185.9,1262.8Z"/>
<path d="M196,1266.4L198.6,1262.1L193.4,1262.1Z"/>
</g>
<g fill="#0a0a0a">
<line x1="213" y1="1301.2" x2="237.5" y2="1301.2" stroke="#0a0a0a" stroke-width="1"/>
<path d="M217.7,1298.3L220.1,1300.7L217.7,1303.1L215.3,1300.7Z"/>
<path d="M225.2,1299.2L227.6,1301.6L225.2,1304L222.8,1301.6Z"/>
<path d="M232.6,1298.3L235,1300.7L232.6,1303.1L230.2,1300.7Z"/>
</g>
<text class="ss" x="225.25" y="1298.5" font-size="12.2" text-anchor="middle" fill="#222" stroke="#222" stroke-width="0.25">***</text>
<text class="ss" x="318.2" y="1150.3" font-size="12" font-weight="bold" text-anchor="end" fill="#0a0a0a" stroke="#0a0a0a" stroke-width="0.3">40</text>
<text class="ss" x="318.2" y="1175.9" font-size="12" font-weight="bold" text-anchor="end" fill="#0a0a0a" stroke="#0a0a0a" stroke-width="0.3">35</text>
<text class="ss" x="318.2" y="1201.4" font-size="12" font-weight="bold" text-anchor="end" fill="#0a0a0a" stroke="#0a0a0a" stroke-width="0.3">30</text>
<text class="ss" x="318.2" y="1226.9" font-size="12" font-weight="bold" text-anchor="end" fill="#0a0a0a" stroke="#0a0a0a" stroke-width="0.3">25</text>
<path d="M324.8,1145.2V1222.6M319.8,1146H324.8M319.8,1171.6H324.8M319.8,1197.1H324.8M319.8,1222.6H324.8M319.8,1222.6H329.8" fill="none" stroke="#0a0a0a" stroke-width="1.7"/>
<text class="ss" x="318.2" y="1241.3" font-size="12" font-weight="bold" text-anchor="end" fill="#0a0a0a" stroke="#0a0a0a" stroke-width="0.3">2.0</text>
<text class="ss" x="318.2" y="1260.4" font-size="12" font-weight="bold" text-anchor="end" fill="#0a0a0a" stroke="#0a0a0a" stroke-width="0.3">1.5</text>
<text class="ss" x="318.2" y="1279.6" font-size="12" font-weight="bold" text-anchor="end" fill="#0a0a0a" stroke="#0a0a0a" stroke-width="0.3">1.0</text>
<text class="ss" x="318.2" y="1298.7" font-size="12" font-weight="bold" text-anchor="end" fill="#0a0a0a" stroke="#0a0a0a" stroke-width="0.3">0.5</text>
<text class="ss" x="318.2" y="1317.8" font-size="12" font-weight="bold" text-anchor="end" fill="#0a0a0a" stroke="#0a0a0a" stroke-width="0.3">0.0</text>
<path d="M324.8,1236.2V1314.3M323.9,1313.5H521.5M319.8,1237H324.8M319.8,1256.1H324.8M319.8,1275.3H324.8M319.8,1294.4H324.8M319.8,1313.5H324.8M348.9,1313.5V1318.5M386,1313.5V1318.5M422.8,1313.5V1318.5M459.7,1313.5V1318.5M496.3,1313.5V1318.5M319.8,1237H329.8" fill="none" stroke="#0a0a0a" stroke-width="1.7"/>
<text class="ss" x="351.9" y="1327.4" font-size="13" font-weight="bold" text-anchor="end" fill="#0a0a0a" transform="rotate(-45 351.9 1327.4)" stroke="#0a0a0a" stroke-width="0.3">M1 Exo</text>
<text class="ss" x="389" y="1327.4" font-size="13" font-weight="bold" text-anchor="end" fill="#0a0a0a" transform="rotate(-45 389 1327.4)" stroke="#0a0a0a" stroke-width="0.3">oe-NC M1 Exo</text>
<text class="ss" x="425.8" y="1327.4" font-size="13" font-weight="bold" text-anchor="end" fill="#0a0a0a" transform="rotate(-45 425.8 1327.4)" stroke="#0a0a0a" stroke-width="0.3">oe-HOTTIP M1 Exo</text>
<text class="ss" x="462.7" y="1327.4" font-size="13" font-weight="bold" text-anchor="end" fill="#0a0a0a" transform="rotate(-45 462.7 1327.4)" stroke="#0a0a0a" stroke-width="0.3">sh-NC M1 Exo</text>
<text class="ss" x="499.3" y="1327.4" font-size="13" font-weight="bold" text-anchor="end" fill="#0a0a0a" transform="rotate(-45 499.3 1327.4)" stroke="#0a0a0a" stroke-width="0.3">sh-HOTTIP M1 Exo</text>
<text class="ss" x="292.3" y="1229.8" font-size="13.4" font-weight="bold" text-anchor="middle" fill="#0a0a0a" transform="rotate(-90 292.3 1229.8)" stroke="#0a0a0a" stroke-width="0.3">Relative expression of HOTTIP</text>
<g fill="#0a0a0a">
<line x1="336.5" y1="1275.3" x2="361.5" y2="1275.3" stroke="#0a0a0a" stroke-width="1"/>
<path d="M349,1273.2V1277.6M345.6,1273.2H352.4M345.6,1277.6H352.4" fill="none" stroke="#0a0a0a" stroke-width="1"/>
<circle cx="341.9" cy="1273.2" r="2.4"/>
<circle cx="349.3" cy="1277.4" r="2.4"/>
<circle cx="356.8" cy="1274.3" r="2.4"/>
</g>
<g fill="#0a0a0a">
<line x1="373.7" y1="1274.3" x2="398.5" y2="1274.3" stroke="#0a0a0a" stroke-width="1"/>
<path d="M386.1,1271.8V1276.9M382.7,1271.8H389.5M382.7,1276.9H389.5" fill="none" stroke="#0a0a0a" stroke-width="1"/>
<rect x="376.1" y="1269.2" width="4.7" height="4.7"/>
<rect x="383.6" y="1274.4" width="4.7" height="4.7"/>
<rect x="391.3" y="1272" width="4.7" height="4.7"/>
</g>
<g fill="#0a0a0a">
<line x1="410.5" y1="1177.7" x2="435.2" y2="1177.7" stroke="#0a0a0a" stroke-width="1"/>
<path d="M422.9,1175.4V1180.2M419.5,1175.4H426.2M419.5,1180.2H426.2" fill="none" stroke="#0a0a0a" stroke-width="1"/>
<path d="M415.1,1172.6L417.7,1176.9L412.5,1176.9Z"/>
<path d="M422.8,1177.9L425.4,1182.2L420.2,1182.2Z"/>
<path d="M430.3,1176.1L432.9,1180.4L427.7,1180.4Z"/>
</g>
<text class="ss" x="422.85" y="1173.5" font-size="12.2" text-anchor="middle" fill="#222" stroke="#222" stroke-width="0.25">***</text>
<g fill="#0a0a0a">
<line x1="447.3" y1="1273.6" x2="472" y2="1273.6" stroke="#0a0a0a" stroke-width="1"/>
<path d="M459.6,1271V1276.3M456.2,1271H463M456.2,1276.3H463" fill="none" stroke="#0a0a0a" stroke-width="1"/>
<path d="M452,1273L454.6,1268.7L449.4,1268.7Z"/>
<path d="M459.7,1278.8L462.3,1274.5L457.1,1274.5Z"/>
<path d="M467.6,1276.5L470.2,1272.2L465,1272.2Z"/>
</g>
<g fill="#0a0a0a">
<line x1="484" y1="1284.6" x2="508.7" y2="1284.6" stroke="#0a0a0a" stroke-width="1"/>
<path d="M488.9,1282L491.3,1284.4L488.9,1286.8L486.5,1284.4Z"/>
<path d="M496.3,1282.7L498.7,1285.1L496.3,1287.5L493.9,1285.1Z"/>
<path d="M504,1282L506.4,1284.4L504,1286.8L501.6,1284.4Z"/>
</g>
<text class="ss" x="496.35" y="1283" font-size="12.2" text-anchor="middle" fill="#222" stroke="#222" stroke-width="0.25">**</text>
</g>
</svg>
</body></html>
